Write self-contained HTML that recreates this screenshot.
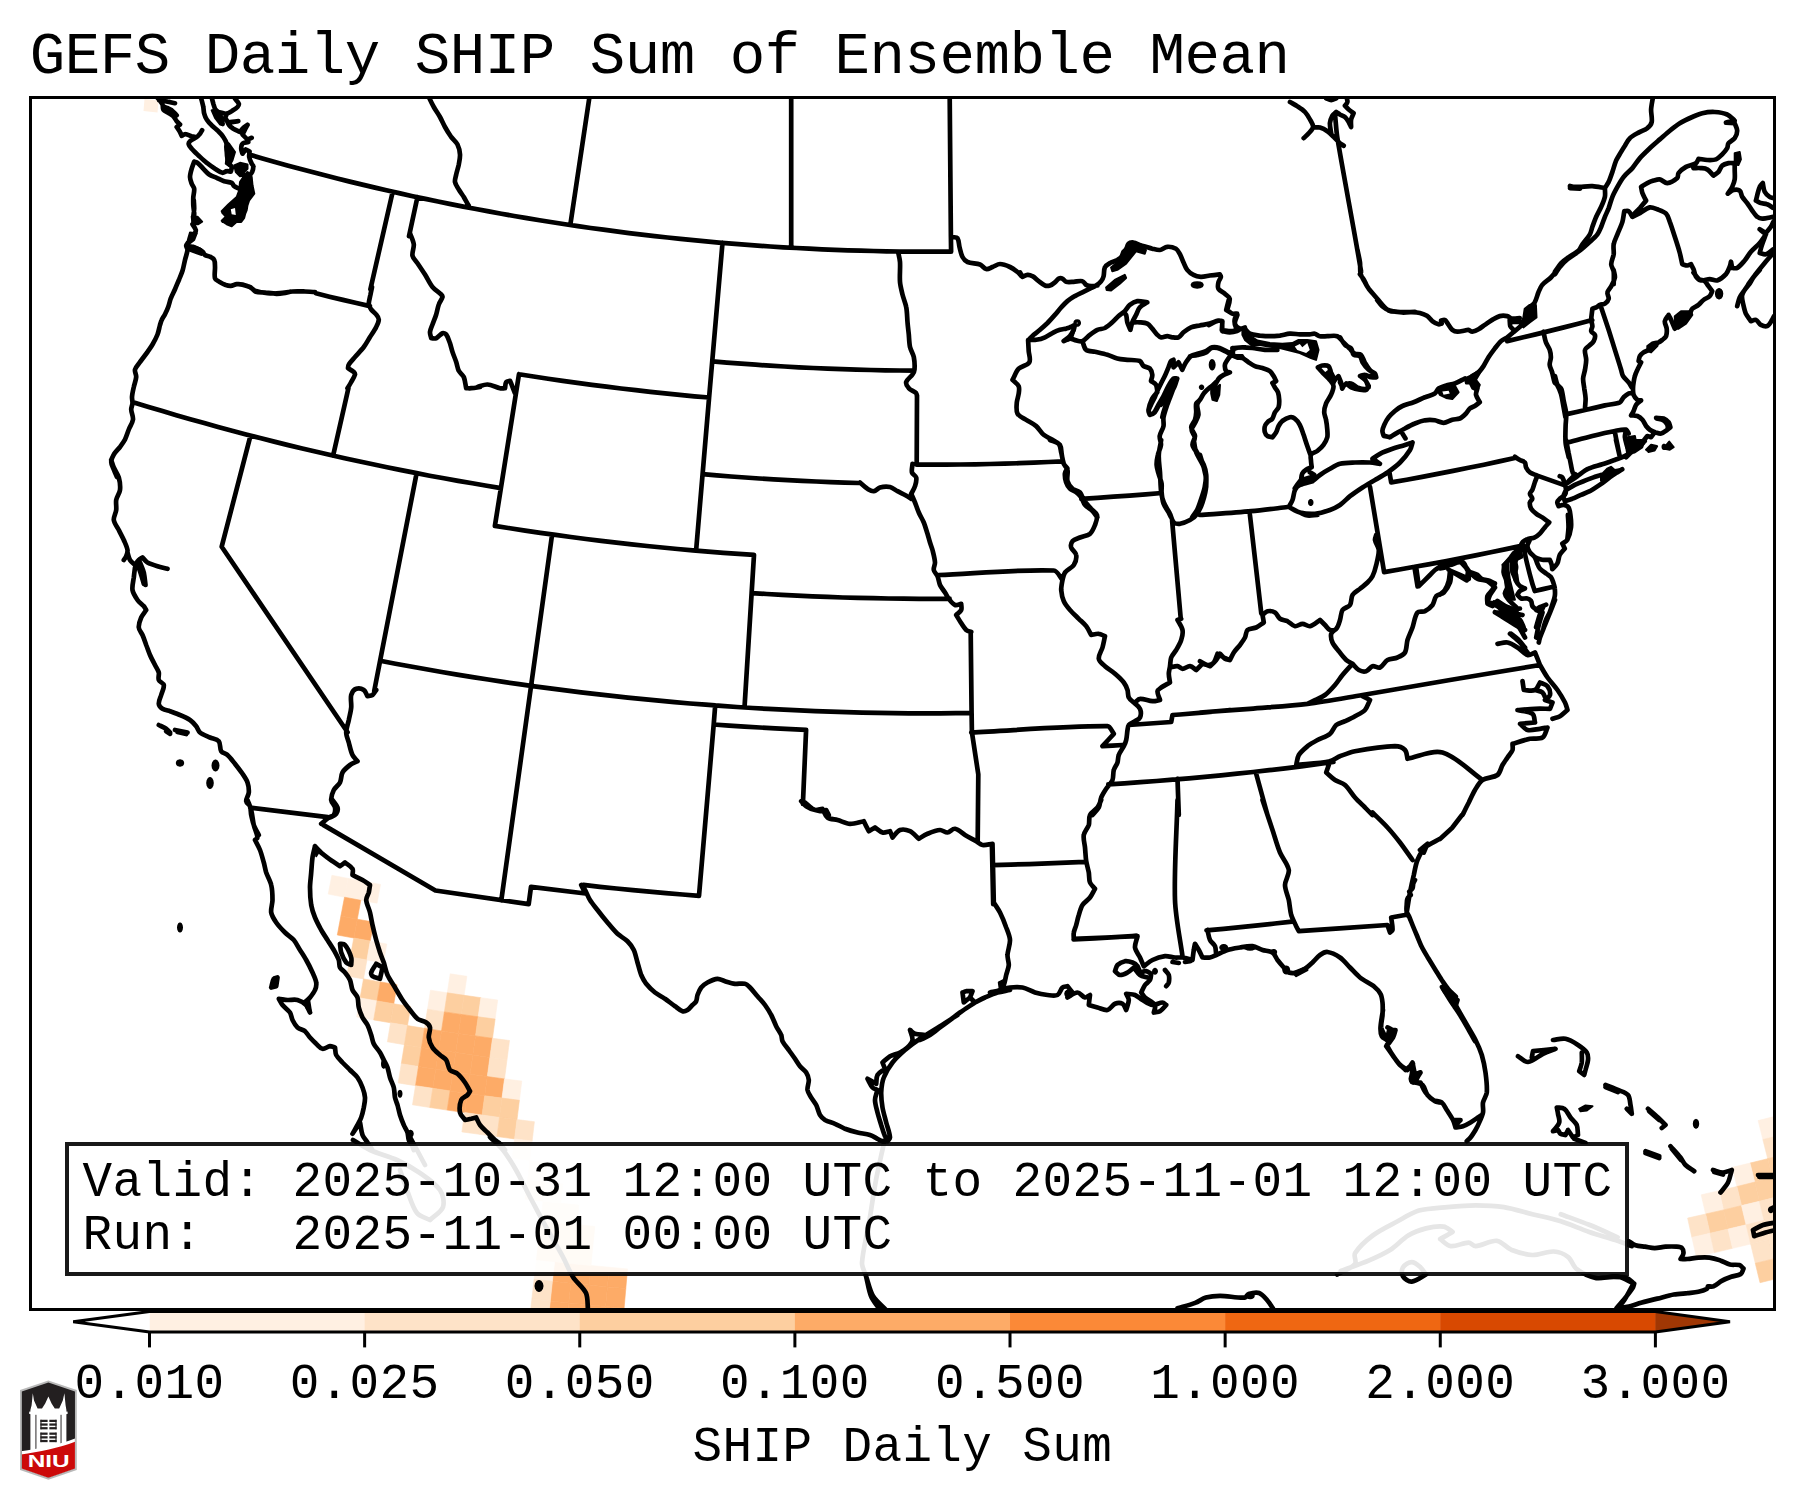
<!DOCTYPE html>
<html><head><meta charset="utf-8"><title>GEFS Daily SHIP Sum of Ensemble Mean</title>
<style>
html,body{margin:0;padding:0;background:#fff;}
svg{display:block}
text{font-family:"Liberation Mono",monospace;fill:#000;white-space:pre}
.ti{font-size:59.1px;letter-spacing:-0.465px}
.t{font-size:49.3px;letter-spacing:0.415px}
</style></head><body>
<svg width="1803" height="1500" viewBox="0 0 1803 1500">
<rect width="1803" height="1500" fill="#fff"/>
<defs><clipPath id="ax"><rect x="30.5" y="97.5" width="1744" height="1212"/></clipPath></defs>
<g clip-path="url(#ax)">
<polygon points="331.9,875.3 348.1,878.4 344.5,897.2 328.2,894.1" fill="#fff0e2" stroke="#fff0e2" stroke-width="0.6"/>
<polygon points="348.1,878.4 364.3,881.4 360.8,900.3 344.5,897.2" fill="#fff0e2" stroke="#fff0e2" stroke-width="0.6"/>
<polygon points="364.3,881.4 380.5,884.4 377.1,903.2 360.8,900.3" fill="#fff0e2" stroke="#fff0e2" stroke-width="0.6"/>
<polygon points="344.5,897.2 360.8,900.3 357.3,919.2 340.9,916.1" fill="#fdab67" stroke="#fdab67" stroke-width="0.6"/>
<polygon points="340.9,916.1 357.3,919.2 353.8,938.0 337.3,935.0" fill="#fdab67" stroke="#fdab67" stroke-width="0.6"/>
<polygon points="357.3,919.2 373.7,922.1 370.3,941.0 353.8,938.0" fill="#fdab67" stroke="#fdab67" stroke-width="0.6"/>
<polygon points="353.8,938.0 370.3,941.0 366.9,960.0 350.3,957.0" fill="#fdcfa0" stroke="#fdcfa0" stroke-width="0.6"/>
<polygon points="370.3,941.0 386.8,944.0 383.5,962.9 366.9,960.0" fill="#fff0e2" stroke="#fff0e2" stroke-width="0.6"/>
<polygon points="350.3,957.0 366.9,960.0 363.5,978.9 346.8,975.9" fill="#fee3c8" stroke="#fee3c8" stroke-width="0.6"/>
<polygon points="363.5,978.9 380.3,981.9 377.0,1000.9 360.1,997.9" fill="#fdcfa0" stroke="#fdcfa0" stroke-width="0.6"/>
<polygon points="380.3,981.9 397.0,984.7 393.8,1003.8 377.0,1000.9" fill="#fdab67" stroke="#fdab67" stroke-width="0.6"/>
<polygon points="360.1,997.9 377.0,1000.9 373.7,1019.9 356.7,1016.9" fill="#fff0e2" stroke="#fff0e2" stroke-width="0.6"/>
<polygon points="377.0,1000.9 393.8,1003.8 390.6,1022.8 373.7,1019.9" fill="#fdcfa0" stroke="#fdcfa0" stroke-width="0.6"/>
<polygon points="393.8,1003.8 410.6,1006.5 407.5,1025.6 390.6,1022.8" fill="#fdcfa0" stroke="#fdcfa0" stroke-width="0.6"/>
<polygon points="390.6,1022.8 407.5,1025.6 404.4,1044.7 387.4,1041.8" fill="#fee3c8" stroke="#fee3c8" stroke-width="0.6"/>
<polygon points="407.5,1025.6 424.5,1028.3 421.5,1047.4 404.4,1044.7" fill="#fdcfa0" stroke="#fdcfa0" stroke-width="0.6"/>
<polygon points="404.4,1044.7 421.5,1047.4 418.5,1066.5 401.3,1063.8" fill="#fdcfa0" stroke="#fdcfa0" stroke-width="0.6"/>
<polygon points="401.3,1063.8 418.5,1066.5 415.5,1085.7 398.2,1082.9" fill="#fee3c8" stroke="#fee3c8" stroke-width="0.6"/>
<polygon points="450.2,973.8 466.9,976.3 464.1,995.3 447.3,992.8" fill="#fff0e2" stroke="#fff0e2" stroke-width="0.6"/>
<polygon points="430.5,990.2 447.3,992.8 444.4,1011.9 427.5,1009.2" fill="#fff0e2" stroke="#fff0e2" stroke-width="0.6"/>
<polygon points="447.3,992.8 464.1,995.3 461.3,1014.4 444.4,1011.9" fill="#fdcfa0" stroke="#fdcfa0" stroke-width="0.6"/>
<polygon points="464.1,995.3 480.9,997.7 478.2,1016.8 461.3,1014.4" fill="#fdcfa0" stroke="#fdcfa0" stroke-width="0.6"/>
<polygon points="480.9,997.7 497.7,1000.0 495.1,1019.1 478.2,1016.8" fill="#fff0e2" stroke="#fff0e2" stroke-width="0.6"/>
<polygon points="427.5,1009.2 444.4,1011.9 441.5,1030.9 424.5,1028.3" fill="#fee3c8" stroke="#fee3c8" stroke-width="0.6"/>
<polygon points="444.4,1011.9 461.3,1014.4 458.5,1033.5 441.5,1030.9" fill="#fdab67" stroke="#fdab67" stroke-width="0.6"/>
<polygon points="461.3,1014.4 478.2,1016.8 475.5,1035.9 458.5,1033.5" fill="#fdab67" stroke="#fdab67" stroke-width="0.6"/>
<polygon points="478.2,1016.8 495.1,1019.1 492.5,1038.3 475.5,1035.9" fill="#fdcfa0" stroke="#fdcfa0" stroke-width="0.6"/>
<polygon points="424.5,1028.3 441.5,1030.9 438.6,1050.0 421.5,1047.4" fill="#fdab67" stroke="#fdab67" stroke-width="0.6"/>
<polygon points="441.5,1030.9 458.5,1033.5 455.7,1052.6 438.6,1050.0" fill="#fdab67" stroke="#fdab67" stroke-width="0.6"/>
<polygon points="458.5,1033.5 475.5,1035.9 472.8,1055.1 455.7,1052.6" fill="#fdab67" stroke="#fdab67" stroke-width="0.6"/>
<polygon points="475.5,1035.9 492.5,1038.3 489.9,1057.4 472.8,1055.1" fill="#fdab67" stroke="#fdab67" stroke-width="0.6"/>
<polygon points="492.5,1038.3 509.5,1040.5 507.0,1059.7 489.9,1057.4" fill="#fee3c8" stroke="#fee3c8" stroke-width="0.6"/>
<polygon points="421.5,1047.4 438.6,1050.0 435.7,1069.2 418.5,1066.5" fill="#fdab67" stroke="#fdab67" stroke-width="0.6"/>
<polygon points="438.6,1050.0 455.7,1052.6 452.9,1071.7 435.7,1069.2" fill="#fdab67" stroke="#fdab67" stroke-width="0.6"/>
<polygon points="455.7,1052.6 472.8,1055.1 470.1,1074.2 452.9,1071.7" fill="#fdab67" stroke="#fdab67" stroke-width="0.6"/>
<polygon points="472.8,1055.1 489.9,1057.4 487.3,1076.6 470.1,1074.2" fill="#fdab67" stroke="#fdab67" stroke-width="0.6"/>
<polygon points="489.9,1057.4 507.0,1059.7 504.5,1078.9 487.3,1076.6" fill="#fee3c8" stroke="#fee3c8" stroke-width="0.6"/>
<polygon points="418.5,1066.5 435.7,1069.2 432.8,1088.3 415.5,1085.7" fill="#fdab67" stroke="#fdab67" stroke-width="0.6"/>
<polygon points="435.7,1069.2 452.9,1071.7 450.1,1090.9 432.8,1088.3" fill="#fdab67" stroke="#fdab67" stroke-width="0.6"/>
<polygon points="452.9,1071.7 470.1,1074.2 467.4,1093.4 450.1,1090.9" fill="#fdab67" stroke="#fdab67" stroke-width="0.6"/>
<polygon points="470.1,1074.2 487.3,1076.6 484.7,1095.8 467.4,1093.4" fill="#fdab67" stroke="#fdab67" stroke-width="0.6"/>
<polygon points="487.3,1076.6 504.5,1078.9 502.0,1098.1 484.7,1095.8" fill="#fdab67" stroke="#fdab67" stroke-width="0.6"/>
<polygon points="504.5,1078.9 521.8,1081.1 519.4,1100.3 502.0,1098.1" fill="#fff0e2" stroke="#fff0e2" stroke-width="0.6"/>
<polygon points="415.5,1085.7 432.8,1088.3 429.8,1107.5 412.5,1104.8" fill="#fee3c8" stroke="#fee3c8" stroke-width="0.6"/>
<polygon points="432.8,1088.3 450.1,1090.9 447.2,1110.1 429.8,1107.5" fill="#fdcfa0" stroke="#fdcfa0" stroke-width="0.6"/>
<polygon points="450.1,1090.9 467.4,1093.4 464.7,1112.6 447.2,1110.1" fill="#fdab67" stroke="#fdab67" stroke-width="0.6"/>
<polygon points="467.4,1093.4 484.7,1095.8 482.1,1115.0 464.7,1112.6" fill="#fdab67" stroke="#fdab67" stroke-width="0.6"/>
<polygon points="484.7,1095.8 502.0,1098.1 499.5,1117.4 482.1,1115.0" fill="#fdcfa0" stroke="#fdcfa0" stroke-width="0.6"/>
<polygon points="502.0,1098.1 519.4,1100.3 517.0,1119.6 499.5,1117.4" fill="#fdcfa0" stroke="#fdcfa0" stroke-width="0.6"/>
<polygon points="464.7,1112.6 482.1,1115.0 479.5,1134.3 461.9,1131.9" fill="#fee3c8" stroke="#fee3c8" stroke-width="0.6"/>
<polygon points="482.1,1115.0 499.5,1117.4 497.0,1136.6 479.5,1134.3" fill="#fee3c8" stroke="#fee3c8" stroke-width="0.6"/>
<polygon points="499.5,1117.4 517.0,1119.6 514.6,1138.9 497.0,1136.6" fill="#fdcfa0" stroke="#fdcfa0" stroke-width="0.6"/>
<polygon points="517.0,1119.6 534.4,1121.7 532.1,1141.0 514.6,1138.9" fill="#fee3c8" stroke="#fee3c8" stroke-width="0.6"/>
<polygon points="514.6,1138.9 532.1,1141.0 529.8,1160.4 512.1,1158.2" fill="#fff0e2" stroke="#fff0e2" stroke-width="0.6"/>
<polygon points="554.6,1261.7 572.8,1263.7 570.8,1283.3 552.4,1281.3" fill="#fdab67" stroke="#fdab67" stroke-width="0.6"/>
<polygon points="552.4,1281.3 570.8,1283.3 568.7,1302.9 550.3,1300.9" fill="#fdab67" stroke="#fdab67" stroke-width="0.6"/>
<polygon points="550.3,1300.9 568.7,1302.9 566.7,1322.6 548.2,1320.6" fill="#fdab67" stroke="#fdab67" stroke-width="0.6"/>
<polygon points="572.8,1263.7 591.0,1265.5 589.1,1285.1 570.8,1283.3" fill="#fdab67" stroke="#fdab67" stroke-width="0.6"/>
<polygon points="570.8,1283.3 589.1,1285.1 587.2,1304.7 568.7,1302.9" fill="#fdab67" stroke="#fdab67" stroke-width="0.6"/>
<polygon points="568.7,1302.9 587.2,1304.7 585.2,1324.4 566.7,1322.6" fill="#fdab67" stroke="#fdab67" stroke-width="0.6"/>
<polygon points="591.0,1265.5 609.2,1267.2 607.4,1286.9 589.1,1285.1" fill="#fdab67" stroke="#fdab67" stroke-width="0.6"/>
<polygon points="589.1,1285.1 607.4,1286.9 605.6,1306.5 587.2,1304.7" fill="#fdab67" stroke="#fdab67" stroke-width="0.6"/>
<polygon points="587.2,1304.7 605.6,1306.5 603.8,1326.2 585.2,1324.4" fill="#fdab67" stroke="#fdab67" stroke-width="0.6"/>
<polygon points="609.2,1267.2 627.5,1268.9 625.8,1288.5 607.4,1286.9" fill="#fdab67" stroke="#fdab67" stroke-width="0.6"/>
<polygon points="607.4,1286.9 625.8,1288.5 624.1,1308.2 605.6,1306.5" fill="#fdab67" stroke="#fdab67" stroke-width="0.6"/>
<polygon points="605.6,1306.5 624.1,1308.2 622.3,1327.9 603.8,1326.2" fill="#fdab67" stroke="#fdab67" stroke-width="0.6"/>
<polygon points="536.4,1259.7 554.6,1261.7 552.4,1281.3 534.1,1279.3" fill="#fff0e2" stroke="#fff0e2" stroke-width="0.6"/>
<polygon points="534.1,1279.3 552.4,1281.3 550.3,1300.9 531.9,1298.9" fill="#fee3c8" stroke="#fee3c8" stroke-width="0.6"/>
<polygon points="531.9,1298.9 550.3,1300.9 548.2,1320.6 529.7,1318.5" fill="#fee3c8" stroke="#fee3c8" stroke-width="0.6"/>
<polygon points="538.6,1240.2 556.7,1242.2 554.6,1261.7 536.4,1259.7" fill="#fdcfa0" stroke="#fdcfa0" stroke-width="0.6"/>
<polygon points="540.8,1220.7 558.8,1222.7 556.7,1242.2 538.6,1240.2" fill="#fdcfa0" stroke="#fdcfa0" stroke-width="0.6"/>
<polygon points="556.7,1242.2 574.8,1244.1 572.8,1263.7 554.6,1261.7" fill="#fdcfa0" stroke="#fdcfa0" stroke-width="0.6"/>
<polygon points="558.8,1222.7 576.8,1224.6 574.8,1244.1 556.7,1242.2" fill="#fdcfa0" stroke="#fdcfa0" stroke-width="0.6"/>
<polygon points="574.8,1244.1 592.9,1245.9 591.0,1265.5 572.8,1263.7" fill="#fdcfa0" stroke="#fdcfa0" stroke-width="0.6"/>
<polygon points="576.8,1224.6 594.9,1226.4 592.9,1245.9 574.8,1244.1" fill="#fdcfa0" stroke="#fdcfa0" stroke-width="0.6"/>
<polygon points="543.1,1201.2 560.9,1203.2 558.8,1222.7 540.8,1220.7" fill="#fee3c8" stroke="#fee3c8" stroke-width="0.6"/>
<polygon points="560.9,1203.2 578.9,1205.1 576.8,1224.6 558.8,1222.7" fill="#fee3c8" stroke="#fee3c8" stroke-width="0.6"/>
<polygon points="527.5,1179.7 545.3,1181.8 543.1,1201.2 525.2,1199.1" fill="#fee3c8" stroke="#fee3c8" stroke-width="0.6"/>
<polygon points="529.8,1160.4 547.5,1162.4 545.3,1181.8 527.5,1179.7" fill="#fff0e2" stroke="#fff0e2" stroke-width="0.6"/>
<polygon points="545.3,1181.8 563.1,1183.8 560.9,1203.2 543.1,1201.2" fill="#fff0e2" stroke="#fff0e2" stroke-width="0.6"/>
<polygon points="1758.1,1120.6 1775.6,1116.2 1780.4,1135.2 1762.9,1139.6" fill="#fff0e2" stroke="#fff0e2" stroke-width="0.6"/>
<polygon points="1762.9,1139.6 1780.4,1135.2 1785.3,1154.2 1767.7,1158.7" fill="#fee3c8" stroke="#fee3c8" stroke-width="0.6"/>
<polygon points="1750.0,1163.1 1767.7,1158.7 1772.4,1177.7 1754.7,1182.1" fill="#fdcfa0" stroke="#fdcfa0" stroke-width="0.6"/>
<polygon points="1767.7,1158.7 1785.3,1154.2 1790.2,1173.2 1772.4,1177.7" fill="#fdcfa0" stroke="#fdcfa0" stroke-width="0.6"/>
<polygon points="1732.3,1167.3 1750.0,1163.1 1754.7,1182.1 1736.9,1186.5" fill="#fff0e2" stroke="#fff0e2" stroke-width="0.6"/>
<polygon points="1736.9,1186.5 1754.7,1182.1 1759.4,1201.3 1741.5,1205.6" fill="#fdcfa0" stroke="#fdcfa0" stroke-width="0.6"/>
<polygon points="1754.7,1182.1 1772.4,1177.7 1777.2,1196.8 1759.4,1201.3" fill="#fdcfa0" stroke="#fdcfa0" stroke-width="0.6"/>
<polygon points="1772.4,1177.7 1790.2,1173.2 1795.1,1192.3 1777.2,1196.8" fill="#fdcfa0" stroke="#fdcfa0" stroke-width="0.6"/>
<polygon points="1719.1,1190.7 1736.9,1186.5 1741.5,1205.6 1723.5,1209.9" fill="#fee3c8" stroke="#fee3c8" stroke-width="0.6"/>
<polygon points="1701.2,1194.8 1719.1,1190.7 1723.5,1209.9 1705.6,1214.0" fill="#fff0e2" stroke="#fff0e2" stroke-width="0.6"/>
<polygon points="1705.6,1214.0 1723.5,1209.9 1728.1,1229.1 1710.0,1233.3" fill="#fdcfa0" stroke="#fdcfa0" stroke-width="0.6"/>
<polygon points="1723.5,1209.9 1741.5,1205.6 1746.1,1224.8 1728.1,1229.1" fill="#fdcfa0" stroke="#fdcfa0" stroke-width="0.6"/>
<polygon points="1687.6,1218.1 1705.6,1214.0 1710.0,1233.3 1691.9,1237.4" fill="#fee3c8" stroke="#fee3c8" stroke-width="0.6"/>
<polygon points="1741.5,1205.6 1759.4,1201.3 1764.1,1220.4 1746.1,1224.8" fill="#fff0e2" stroke="#fff0e2" stroke-width="0.6"/>
<polygon points="1759.4,1201.3 1777.2,1196.8 1782.1,1216.0 1764.1,1220.4" fill="#fee3c8" stroke="#fee3c8" stroke-width="0.6"/>
<polygon points="1777.2,1196.8 1795.1,1192.3 1800.0,1211.4 1782.1,1216.0" fill="#fee3c8" stroke="#fee3c8" stroke-width="0.6"/>
<polygon points="1691.9,1237.4 1710.0,1233.3 1714.4,1252.6 1696.3,1256.7" fill="#fff0e2" stroke="#fff0e2" stroke-width="0.6"/>
<polygon points="1710.0,1233.3 1728.1,1229.1 1732.6,1248.3 1714.4,1252.6" fill="#fee3c8" stroke="#fee3c8" stroke-width="0.6"/>
<polygon points="1728.1,1229.1 1746.1,1224.8 1750.7,1244.0 1732.6,1248.3" fill="#fff0e2" stroke="#fff0e2" stroke-width="0.6"/>
<polygon points="1746.1,1224.8 1764.1,1220.4 1768.8,1239.6 1750.7,1244.0" fill="#fee3c8" stroke="#fee3c8" stroke-width="0.6"/>
<polygon points="1764.1,1220.4 1782.1,1216.0 1786.9,1235.2 1768.8,1239.6" fill="#fee3c8" stroke="#fee3c8" stroke-width="0.6"/>
<polygon points="1750.7,1244.0 1768.8,1239.6 1773.5,1258.9 1755.3,1263.3" fill="#fee3c8" stroke="#fee3c8" stroke-width="0.6"/>
<polygon points="1768.8,1239.6 1786.9,1235.2 1791.7,1254.4 1773.5,1258.9" fill="#fee3c8" stroke="#fee3c8" stroke-width="0.6"/>
<polygon points="1755.3,1263.3 1773.5,1258.9 1778.3,1278.2 1760.0,1282.7" fill="#fdcfa0" stroke="#fdcfa0" stroke-width="0.6"/>
<polygon points="1773.5,1258.9 1791.7,1254.4 1796.6,1273.7 1778.3,1278.2" fill="#fdcfa0" stroke="#fdcfa0" stroke-width="0.6"/>
<polygon points="144.5,99 158.5,100.5 157.5,112.5 143.5,111" fill="#fff0e2"/>
<path d="M250.1,154.8 262.5,158.4 274.9,161.9 287.4,165.4 299.8,168.8 312.3,172.1 324.8,175.3 337.3,178.5 349.8,181.6 362.4,184.6 375.0,187.6 387.5,190.5 400.1,193.4 412.7,196.2 425.4,198.9 438.0,201.5 450.7,204.1 463.3,206.6 476.0,209.0 488.7,211.4 501.4,213.7 514.1,216.0 526.8,218.1 539.6,220.2 552.3,222.3 565.1,224.2 577.9,226.1 590.6,228.0 603.4,229.7 616.2,231.4 629.0,233.1 641.9,234.6 654.7,236.1 667.5,237.5 680.4,238.9 693.2,240.2 706.1,241.4 718.9,242.6 731.8,243.6 744.7,244.7 757.5,245.6 770.4,246.5 783.3,247.3 796.2,248.0 809.1,248.7 822.0,249.3 834.9,249.8 847.8,250.3 860.7,250.7 873.6,251.0 886.5,251.3 899.4,251.5 912.3,251.6 925.2,251.7 938.1,251.7 951.1,251.6 M951.1,251.6 950.9,236.6 949.5,73.8 M134.7,402.8 148.6,407.0 162.5,411.1 176.3,415.2 190.3,419.2 204.2,423.1 218.1,427.0 232.1,430.7 246.1,434.4 260.1,438.1 274.2,441.6 288.2,445.1 302.3,448.5 316.4,451.8 330.5,455.0 344.6,458.2 358.7,461.3 372.9,464.3 387.0,467.3 401.2,470.1 415.4,472.9 429.6,475.7 443.9,478.3 458.1,480.9 472.4,483.3 486.7,485.7 500.9,488.1 M519.0,374.2 533.6,376.5 548.1,378.7 562.7,380.8 577.3,382.9 591.9,384.8 606.5,386.7 621.1,388.5 635.8,390.2 650.4,391.9 665.0,393.4 679.7,394.9 694.4,396.3 709.1,397.5 M494.9,525.9 510.0,528.3 525.2,530.6 540.4,532.8 555.6,534.9 570.8,537.0 586.0,539.0 601.2,540.8 616.4,542.6 631.7,544.3 647.0,546.0 662.2,547.5 677.5,549.0 692.8,550.3 708.1,551.6 723.4,552.8 738.7,553.9 754.0,554.9 M380.1,660.8 395.5,663.7 410.9,666.5 426.3,669.3 441.7,672.0 457.2,674.6 472.6,677.1 488.1,679.5 503.5,681.9 519.0,684.1 534.5,686.3 550.0,688.4 565.6,690.4 581.1,692.3 596.6,694.2 612.2,695.9 627.8,697.6 643.3,699.2 658.9,700.7 674.5,702.1 690.1,703.5 705.7,704.7 721.3,705.9 736.9,707.0 752.6,708.0 768.2,708.9 783.8,709.7 799.5,710.4 815.1,711.1 830.7,711.7 846.4,712.2 862.0,712.6 877.7,712.9 893.3,713.1 909.0,713.3 924.6,713.4 940.3,713.3 955.9,713.2 971.6,713.0 M713.7,724.5 729.1,725.6 744.5,726.6 759.9,727.5 775.3,728.4 790.7,729.1 806.1,729.8 M751.5,593.1 766.7,594.0 782.0,594.9 797.2,595.7 812.4,596.3 827.6,596.9 842.9,597.5 858.1,597.9 873.4,598.2 888.6,598.5 903.8,598.7 919.1,598.8 934.3,598.8 949.6,598.7 M702.6,474.2 716.8,475.4 731.0,476.5 745.2,477.5 759.4,478.5 773.6,479.3 787.8,480.1 802.0,480.9 816.2,481.5 830.4,482.1 844.6,482.6 858.8,483.0 M712.5,361.4 726.8,362.6 741.2,363.7 755.6,364.7 770.0,365.7 784.4,366.5 798.8,367.3 813.2,368.0 827.6,368.6 842.1,369.1 856.5,369.6 870.9,370.0 885.3,370.3 899.7,370.5 914.2,370.6 M916.7,464.7 931.3,464.7 946.0,464.6 960.6,464.5 975.2,464.3 989.9,464.0 1004.5,463.6 1019.1,463.2 1033.7,462.6 1048.3,462.0 1063.0,461.3 M315.9,293.3 329.4,296.7 342.9,299.9 356.4,303.0 369.9,306.1 M583.5,884.9 599.9,886.8 616.4,888.5 632.9,890.1 649.4,891.7 665.9,893.1 682.5,894.5 699.0,895.8 M992.4,865.1 1010.9,864.6 1029.4,864.1 1047.9,863.4 1066.4,862.6 1084.9,861.8 M1073.6,939.4 1094.5,938.3 1115.4,937.2 1136.3,935.8 M1206.5,930.4 1223.6,928.8 1240.7,927.1 1257.8,925.4 1274.9,923.5 1291.9,921.6 M1108.3,784.3 1124.4,783.3 1140.5,782.2 1156.6,781.0 1172.8,779.7 1188.9,778.3 1204.9,776.9 1221.0,775.3 1237.1,773.7 1253.2,772.0 1269.2,770.1 1285.3,768.3 1301.3,766.3 1317.3,764.2 1333.4,762.0 M1391.2,482.4 1406.7,479.7 1422.2,476.9 1437.6,473.9 1453.1,470.9 1468.5,467.8 1483.9,464.7 1499.3,461.4 1514.7,458.0 M1384.1,572.1 1399.4,569.5 1414.7,566.8 1429.9,564.1 1445.2,561.3 1460.4,558.4 1475.6,555.4 1490.8,552.3 1506.0,549.1 1521.2,545.9 M1081.3,498.8 1097.4,497.8 1113.5,496.7 1129.6,495.6 1145.7,494.3 1161.7,493.0 M1507.2,341.1 1521.4,337.8 1535.6,334.4 1549.8,330.9 1563.9,327.4 1578.1,323.8 1592.2,320.1 M392.7,191.7 370.4,289.3 M417.4,197.2 409.0,236.2 M333.1,455.7 348.4,388.3 M250.5,435.6 221.7,546.7 347.6,732.2 M416.6,473.2 380.1,660.8 374.2,691.1 M494.9,525.9 519.0,374.2 M552.1,534.5 501.3,900.4 M722.5,242.9 709.1,397.5 696.1,550.6 M754.0,554.9 744.5,707.5 M715.2,705.4 713.7,724.5 699.0,895.8 M806.1,729.8 802.9,803.8 M970.7,632.1 971.6,713.0 971.9,732.1 978.3,774.4 977.7,841.3 M991.9,844.4 993.2,904.1 M917.0,395.3 916.7,464.7 M1172.1,520.5 1180.7,618.1 M1249.9,514.7 1261.3,613.5 M1370.0,486.9 1384.1,572.1 M1389.4,472.2 1391.2,482.4 M1414.4,566.9 1417.6,586.5 M570.3,225.0 596.6,49.2 M250.2,807.7 327.8,817.1 M323.2,824.9 435.4,890.5 528.7,904.1 531.0,886.9 585.5,893.5 M1177.5,778.8 1178.8,815.0 M1462.0,815.0 1452.0,828.0 1440.0,839.0 M157.5,97.8C159.0,99.8 161.4,102.3 162.5,104.5C163.2,105.9 162.5,108.3 163.3,109.5C164.4,111.0 166.8,111.8 168.3,112.8C169.8,113.8 172.1,114.9 173.3,116.2C174.6,117.4 175.5,119.8 176.7,121.2C177.6,122.3 179.0,123.5 180.0,124.5C179.0,125.2 177.7,126.2 176.7,127.0C177.7,128.5 179.1,130.4 180.0,132.0C180.6,133.1 181.2,134.6 181.7,135.8C182.8,135.2 184.2,134.0 185.4,134.1C187.4,134.2 189.8,135.7 191.7,136.2C193.1,136.5 195.2,137.4 196.7,137.0C198.0,136.6 199.1,134.8 200.0,133.7C200.7,132.8 201.5,131.3 202.1,130.3 M159.2,100.3C161.7,100.7 165.0,101.1 167.5,101.6C169.8,102.0 172.8,102.8 175.0,103.2 M165.0,107.0C167.0,108.0 169.8,109.0 171.7,110.3C173.4,111.6 175.2,113.8 176.7,115.3 M196.7,137.0C194.7,138.2 191.7,139.5 190.0,141.2C189.2,141.9 188.5,143.5 188.8,144.5C189.1,146.0 190.7,147.5 191.7,148.7C193.5,150.8 196.3,153.4 198.3,155.3C200.8,157.6 204.0,160.7 206.7,162.8C209.0,164.7 212.4,167.0 215.0,168.7C217.2,170.0 220.0,172.3 222.5,172.8C223.8,173.1 225.3,171.4 226.7,171.2C227.9,171.0 229.6,171.5 230.8,171.6C231.1,170.2 232.0,168.4 231.7,167.0C231.4,165.8 229.7,164.8 229.2,163.7C228.5,162.3 227.8,160.2 227.5,158.7C227.0,156.2 226.8,152.8 226.7,150.3C226.6,148.3 227.2,145.6 226.7,143.7C226.1,141.5 224.6,138.9 223.3,137.0C222.1,135.1 220.0,132.8 218.3,131.2C216.5,129.3 213.5,127.2 211.7,125.3C210.0,123.7 207.9,121.4 206.7,119.5C205.6,117.9 204.7,115.5 204.2,113.7C203.6,111.7 203.7,109.0 203.3,107.0C203.0,105.0 202.2,102.3 201.7,100.3C201.4,99.5 201.1,98.3 200.8,97.4 M211.7,97.4C212.2,99.3 212.8,101.8 213.3,103.7C213.8,105.2 214.3,107.3 215.0,108.7C216.1,110.8 218.1,113.2 219.2,115.3C220.4,117.7 221.5,121.2 222.5,123.7 M235.0,98.7C236.1,100.2 238.2,101.9 238.8,103.7C239.1,104.7 238.2,106.2 237.5,107.0C236.0,108.6 233.5,110.0 231.7,111.2C230.2,112.0 228.3,113.4 226.7,113.7C225.2,113.9 223.2,113.2 221.7,112.8C219.7,112.4 217.0,111.7 215.0,111.2 M226.7,113.7C226.2,115.2 225.5,117.2 225.0,118.7C226.0,119.7 226.9,121.7 228.3,122.0C231.3,122.6 235.3,121.4 238.3,121.2 M226.7,120.3C227.4,121.8 228.1,124.0 229.2,125.3C230.2,126.6 232.0,127.8 233.3,128.7C235.2,129.8 238.0,131.0 240.0,132.0C240.8,131.0 241.6,129.5 242.5,128.7C243.9,127.4 246.0,126.0 247.5,124.9 M247.5,124.9C246.6,126.5 245.4,128.7 244.6,130.3C243.9,131.6 243.1,133.2 242.5,134.5C244.0,135.9 245.6,138.4 247.5,139.1C248.7,139.5 250.4,138.2 251.7,137.8 M247.5,139.1C247.8,140.0 248.1,141.1 248.3,142.0C246.6,142.5 243.8,142.4 242.5,143.7C241.4,144.7 241.2,147.1 241.2,148.7C241.2,150.2 242.1,152.2 242.5,153.7C243.5,152.4 244.8,150.8 245.8,149.5C247.0,150.1 248.5,151.0 249.6,151.6C249.5,153.2 248.9,155.4 249.2,157.0C249.5,159.1 250.8,161.7 251.7,163.7C252.0,164.5 253.3,165.3 253.3,166.2C253.4,168.0 252.8,170.4 252.1,172.0C251.3,173.7 249.5,175.5 248.3,177.0 M194.2,161.6C193.4,163.7 192.3,166.5 191.7,168.7C191.0,171.1 190.0,174.5 190.0,177.0C190.0,179.1 191.0,181.7 191.7,183.7C192.2,185.2 194.0,187.0 194.2,188.7C194.5,191.2 193.5,194.5 193.3,197.0C193.2,199.5 193.2,202.8 193.3,205.3C193.5,207.8 194.1,211.2 194.2,213.7C194.2,216.2 193.9,219.5 193.8,222.0 M194.2,161.6C195.2,162.0 196.7,162.2 197.5,162.8C199.5,164.3 201.6,166.9 203.3,168.7C205.1,170.4 207.1,173.1 209.2,174.5C211.2,175.9 214.4,176.8 216.7,177.8C218.9,178.8 221.8,180.4 224.2,181.2C226.4,181.9 229.6,181.8 231.7,182.8C232.8,183.4 233.2,185.4 234.2,186.2C235.5,187.2 237.7,187.9 239.2,188.7 M193.8,200.0C193.9,202.5 194.2,205.8 194.2,208.3C194.1,210.8 193.6,214.2 193.3,216.7 M192.5,224.2C193.5,225.9 195.3,228.1 195.8,230.0C196.1,231.0 195.2,232.3 195.0,233.3 M187.5,243.3C187.1,244.1 186.2,245.0 186.2,245.8C186.2,247.1 187.6,248.7 187.5,250.0C187.2,253.1 185.7,257.0 185.0,260.0C184.2,263.2 183.5,267.6 182.5,270.8C181.7,273.4 180.2,276.7 179.2,279.2C177.9,282.2 176.3,286.2 175.0,289.2C173.8,291.9 171.9,295.5 170.8,298.3C169.9,300.8 169.2,304.2 168.3,306.7C167.5,309.0 166.1,312.0 165.0,314.2C164.1,316.0 162.5,318.2 161.7,320.0C161.0,321.4 160.5,323.5 160.0,325.0 M186.2,245.8C187.9,246.2 190.1,246.6 191.7,247.1C193.7,247.6 196.4,248.4 198.3,249.2C199.7,249.7 201.4,250.7 202.5,251.7C203.4,252.5 204.0,254.3 205.0,255.0C206.3,255.9 208.6,255.9 210.0,256.7C211.4,257.4 213.5,258.6 214.2,260.0C215.1,261.8 214.9,264.7 215.0,266.7C215.2,270.2 214.1,275.0 215.0,278.3C215.4,279.9 217.8,280.8 219.2,281.7C221.1,282.8 223.7,284.2 225.8,285.0C227.3,285.5 229.3,285.9 230.8,285.8C232.6,285.7 234.9,284.4 236.7,284.2C238.4,284.0 240.8,284.2 242.5,284.6C245.1,285.2 248.5,286.3 250.8,287.5C252.6,288.4 254.0,291.0 255.8,291.7C258.4,292.6 262.3,292.2 265.0,292.5C268.5,292.9 273.2,293.6 276.7,293.8C278.7,293.8 281.4,293.6 283.3,293.3C285.4,293.0 288.0,292.2 290.0,291.7 M250.0,287.0C251.5,288.1 253.2,290.1 255.0,290.8C258.6,292.0 263.7,292.9 267.5,293.2C271.2,293.6 276.3,293.5 280.0,293.2C283.8,293.0 288.7,291.8 292.5,291.5C296.2,291.2 301.3,291.4 305.0,291.5C308.0,291.6 312.0,291.9 315.0,292.0 M140.0,362.0C138.5,364.2 135.7,366.9 135.0,369.5C134.4,371.7 136.4,374.7 136.2,377.0C136.0,380.1 134.4,384.0 133.8,387.0C133.1,390.0 132.2,394.0 132.0,397.0C131.9,398.9 132.6,401.4 132.5,403.2C132.4,405.2 131.2,407.6 131.2,409.5C131.3,412.5 133.4,416.5 133.0,419.5C132.6,422.7 130.0,426.5 128.8,429.5C127.6,432.5 126.4,436.6 125.0,439.5C123.8,441.9 121.6,444.8 120.0,447.0C118.2,449.3 115.2,452.0 113.8,454.5C112.6,456.5 111.2,459.6 111.2,462.0C111.2,464.4 112.9,467.3 113.8,469.5C114.6,471.8 116.0,474.8 117.0,477.0 M147.5,352.0 140.0,362.0 M160.0,325.0C159.2,327.9 158.6,331.7 157.5,334.5C156.3,337.6 154.2,341.6 152.5,344.5C151.2,346.8 149.0,349.8 147.5,352.0 M372.0,287.0C371.6,289.2 370.9,292.2 370.5,294.5C369.9,297.5 368.6,301.5 368.8,304.5C368.8,306.2 370.2,308.2 371.2,309.5C372.5,311.2 375.0,312.8 376.2,314.5C377.3,315.8 378.8,317.8 378.8,319.5C378.8,321.9 377.3,324.9 376.2,327.0C374.7,330.2 371.9,334.0 370.0,337.0C368.1,340.0 365.9,344.2 363.8,347.0C361.4,350.2 357.6,354.0 355.0,357.0C353.1,359.2 350.3,362.0 348.8,364.5C348.1,365.5 348.2,367.1 348.0,368.2C349.7,369.4 352.2,370.6 353.8,372.0C354.4,372.6 355.2,373.7 355.0,374.5C354.4,376.9 352.5,379.8 351.2,382.0C350.2,383.9 348.6,386.4 347.5,388.2 M410.0,233.2C411.1,236.6 413.4,241.0 413.8,244.5C414.1,247.9 411.8,252.4 412.5,255.8C413.0,258.4 416.0,261.0 417.5,263.2C419.8,266.6 422.8,271.1 425.0,274.5C427.3,278.2 429.7,283.6 432.5,287.0C434.7,289.7 438.8,292.1 441.2,294.5C441.8,295.1 442.7,296.2 442.5,297.0C441.9,299.4 439.6,302.1 438.8,304.5C437.7,307.4 437.2,311.5 436.2,314.5C435.3,317.6 433.6,321.5 432.5,324.5C431.7,326.7 430.2,329.6 430.0,332.0C429.8,333.9 430.9,336.4 431.2,338.2C432.8,338.2 434.9,338.9 436.2,338.2C438.4,337.3 440.3,334.1 442.5,333.2C443.6,332.8 445.5,333.6 446.2,334.5C448.0,336.8 449.0,340.6 450.0,343.2C450.9,345.8 451.6,349.4 452.5,352.0C453.5,355.0 455.2,359.0 456.2,362.0C457.1,364.6 457.5,368.3 458.8,370.8C459.8,372.9 462.8,374.8 463.8,377.0C465.1,380.2 465.5,384.9 466.2,388.2C467.8,388.2 469.8,388.4 471.2,388.2C473.9,388.0 477.4,387.4 480.0,387.0 M428.8,97.0C430.2,100.0 432.1,104.1 433.8,107.0C435.5,110.1 438.3,113.9 440.0,117.0C441.6,119.9 443.4,124.1 445.0,127.0C446.7,130.1 449.2,134.1 451.2,137.0C453.0,139.4 456.2,141.9 457.5,144.5C458.9,147.3 459.8,151.4 460.0,154.5C460.2,157.5 459.3,161.5 458.8,164.5C458.2,167.5 456.9,171.5 456.2,174.5C455.8,176.7 454.6,179.8 455.0,182.0C455.4,184.5 457.5,187.3 458.8,189.5C460.1,191.8 462.3,194.7 463.8,197.0C465.3,199.6 467.2,203.1 468.8,205.8 M791.2,97.0 791.2,247.5 M477.5,387.0C480.5,386.2 484.4,384.3 487.5,384.5C491.4,384.7 496.2,387.4 500.0,388.2C501.5,388.6 503.5,388.2 505.0,388.2C505.4,386.4 505.2,383.6 506.2,382.0C506.9,381.0 508.9,381.1 510.0,380.8C510.8,382.6 511.8,385.1 512.5,387.0C513.2,388.9 514.2,391.4 515.0,393.2 M898.2,252.5C898.8,255.3 899.8,259.1 900.0,262.0C900.4,268.0 899.5,276.0 900.0,282.0C900.3,285.8 901.6,290.8 902.5,294.5C903.4,298.3 905.5,303.1 906.2,307.0C907.1,311.4 907.1,317.5 907.5,322.0C907.8,325.8 908.4,330.8 908.8,334.5C909.1,338.2 909.2,343.3 910.0,347.0C910.7,350.1 913.1,353.9 913.8,357.0C914.5,360.7 914.8,365.8 914.5,369.5C914.4,371.1 913.4,373.2 912.5,374.5C910.9,376.9 907.0,379.2 906.2,382.0C905.7,383.9 907.4,386.7 908.8,388.2C910.5,390.3 914.4,391.3 916.2,393.2C917.0,394.1 916.8,395.9 917.0,397.0 M952.5,237.0C954.0,237.4 956.6,237.0 957.5,238.2C959.0,240.5 958.8,244.4 959.5,247.0C960.3,250.0 961.0,254.2 962.5,257.0C963.5,258.9 965.6,261.2 967.5,262.0C971.0,263.5 976.4,263.2 980.0,264.5C982.2,265.3 984.0,268.5 986.2,269.0C988.2,269.4 990.6,267.7 992.5,267.0C994.8,266.2 997.6,264.0 1000.0,264.0C1003.1,264.0 1007.2,265.7 1010.0,267.0C1012.5,268.1 1015.4,270.3 1017.5,272.0C1018.8,273.0 1020.1,274.6 1021.2,275.8 M1020.0,272.4C1020.7,273.7 1021.7,275.5 1022.5,276.8C1024.0,276.2 1025.9,275.0 1027.5,274.9C1029.0,274.8 1031.1,275.4 1032.5,276.2C1034.6,277.3 1036.8,279.7 1038.7,281.2C1040.5,282.5 1042.8,284.7 1045.0,285.5C1046.4,286.1 1048.5,286.0 1050.0,285.5C1051.6,285.0 1053.6,283.5 1054.9,282.4C1056.2,281.4 1057.3,279.4 1058.7,278.7C1059.7,278.2 1061.4,278.2 1062.4,278.7C1063.8,279.2 1064.8,281.4 1066.2,281.8C1068.3,282.4 1071.4,281.9 1073.7,281.8C1076.3,281.7 1079.8,280.5 1082.4,281.2C1083.9,281.5 1084.8,284.1 1086.1,284.9C1087.5,285.7 1089.6,286.1 1091.1,286.2C1093.0,286.3 1095.5,285.7 1097.4,285.5 M1028.7,339.8C1030.2,338.3 1032.1,336.2 1033.7,334.8C1035.5,333.2 1038.2,331.4 1040.0,329.8C1042.3,327.8 1045.3,325.1 1047.5,323.0C1049.8,320.6 1052.8,317.3 1054.9,314.9C1056.9,312.7 1059.2,309.5 1061.2,307.4C1063.0,305.4 1065.4,302.8 1067.4,301.1C1069.5,299.4 1072.6,297.5 1074.9,296.1C1077.1,294.9 1080.1,293.5 1082.4,292.4C1084.6,291.3 1087.6,289.8 1089.9,288.7C1091.8,287.7 1094.4,286.7 1096.1,285.5C1097.8,284.4 1099.9,282.7 1101.1,281.2C1102.2,279.9 1103.2,277.8 1103.6,276.2C1104.3,273.6 1103.7,269.8 1104.9,267.4C1105.7,265.6 1108.1,264.1 1109.9,263.1C1111.9,261.8 1115.2,261.2 1117.3,260.0C1119.4,258.7 1122.0,256.8 1123.6,255.0C1124.7,253.7 1125.4,251.5 1126.1,250.0C1126.9,248.1 1127.1,245.2 1128.6,243.7C1129.7,242.6 1132.0,242.3 1133.6,242.5C1135.6,242.7 1137.9,244.3 1139.8,245.0C1141.6,245.6 1144.2,246.3 1146.0,246.8C1147.9,247.4 1150.4,248.3 1152.3,248.7C1154.5,249.2 1157.5,250.2 1159.8,250.0C1162.2,249.7 1164.8,247.0 1167.3,246.8C1169.9,246.6 1173.6,247.4 1176.0,248.7C1177.6,249.6 1178.8,252.1 1179.7,253.7C1181.1,256.2 1182.3,259.9 1183.5,262.4C1184.5,264.7 1185.7,268.0 1187.2,269.9C1188.7,271.8 1191.3,273.9 1193.5,274.9C1195.5,276.0 1198.6,276.7 1200.9,276.8C1203.6,276.9 1207.1,275.9 1209.7,275.5C1212.7,275.2 1216.7,274.7 1219.7,274.3C1220.0,275.0 1221.0,276.0 1220.9,276.8C1220.6,278.6 1218.8,280.6 1218.4,282.4C1218.0,284.2 1217.5,287.0 1218.4,288.7C1219.6,290.7 1222.9,292.1 1224.7,293.6C1226.2,295.1 1229.3,296.5 1229.7,298.6C1230.2,302.0 1227.9,306.5 1227.2,309.9C1228.7,311.0 1230.4,313.0 1232.1,313.6C1233.5,314.1 1235.6,313.6 1237.1,313.6C1236.4,315.5 1234.8,317.8 1234.6,319.9C1234.4,322.1 1234.8,325.4 1235.9,327.3C1236.5,328.4 1238.5,328.2 1239.6,328.6 M1028.7,339.8C1031.0,339.8 1034.0,340.2 1036.2,339.8C1038.9,339.4 1042.5,338.4 1045.0,337.3C1047.7,336.1 1051.0,333.7 1053.7,332.3C1055.5,331.4 1058.0,330.4 1059.9,329.8C1061.8,329.3 1064.3,329.0 1066.2,328.6C1067.3,328.3 1068.8,327.8 1069.9,327.3C1071.5,326.7 1073.4,325.6 1074.9,324.8C1074.5,326.3 1074.3,328.4 1073.7,329.8C1072.8,331.8 1071.4,334.4 1069.9,336.1C1068.3,337.9 1065.5,339.6 1063.7,341.1C1065.5,340.3 1067.9,338.7 1069.9,338.6C1071.9,338.5 1074.2,340.1 1076.2,340.4C1078.0,340.8 1080.7,341.8 1082.4,341.1C1085.1,340.0 1087.5,336.6 1089.9,334.8C1092.0,333.2 1094.9,331.0 1097.4,329.8C1099.5,328.9 1102.8,329.0 1104.9,328.0C1107.4,326.7 1110.2,324.2 1112.3,322.3C1114.3,320.6 1116.6,317.9 1118.6,316.1C1120.4,314.5 1123.1,312.8 1124.8,311.1C1126.5,309.4 1127.9,306.4 1129.8,304.9C1131.8,303.3 1134.8,301.5 1137.3,301.1C1140.3,300.7 1144.3,302.0 1147.3,302.4C1145.0,303.9 1141.6,305.4 1139.8,307.4C1138.1,309.2 1137.2,312.6 1136.1,314.9C1134.9,317.1 1133.2,320.0 1132.3,322.3C1131.5,324.5 1131.0,327.6 1130.4,329.8C1129.5,327.6 1128.0,324.7 1127.3,322.3C1126.7,320.2 1126.9,317.0 1126.1,314.9C1125.7,313.9 1124.3,313.1 1123.6,312.4 M1078.7,323.0C1078.7,323.2 1078.6,323.5 1078.5,323.7C1078.3,323.9 1078.1,324.2 1077.9,324.3C1077.7,324.4 1077.4,324.5 1077.2,324.5C1076.9,324.5 1076.6,324.4 1076.4,324.3C1076.2,324.2 1076.0,323.9 1075.9,323.7C1075.7,323.5 1075.7,323.2 1075.7,323.0C1075.7,322.7 1075.7,322.4 1075.9,322.2C1076.0,322.0 1076.2,321.8 1076.4,321.7C1076.6,321.6 1076.9,321.5 1077.2,321.5C1077.4,321.5 1077.7,321.6 1077.9,321.7C1078.1,321.8 1078.3,322.0 1078.5,322.2C1078.6,322.4 1078.7,322.7 1078.7,323.0Z M1132.3,322.3C1134.6,322.3 1137.6,322.2 1139.8,322.3C1142.1,322.5 1145.3,322.6 1147.3,323.6C1149.2,324.5 1150.9,327.0 1152.3,328.6C1153.9,330.4 1155.6,333.1 1157.3,334.8C1158.2,335.8 1159.7,337.2 1161.0,337.3C1162.9,337.6 1165.3,336.1 1167.3,336.1C1168.8,336.1 1170.7,337.2 1172.2,337.3C1174.1,337.5 1176.8,338.1 1178.5,337.3C1180.4,336.5 1181.8,333.7 1183.5,332.3C1185.6,330.6 1188.5,328.4 1191.0,327.3C1193.4,326.3 1197.1,326.0 1199.7,325.5C1202.7,324.9 1206.7,324.4 1209.7,323.6C1212.4,322.9 1215.7,321.0 1218.4,320.5C1219.5,320.3 1221.0,320.9 1222.2,321.1C1222.2,324.1 1222.2,328.1 1222.2,331.1C1224.4,331.5 1227.4,332.3 1229.7,332.3C1231.9,332.3 1235.0,331.8 1237.1,331.1C1238.4,330.7 1239.8,329.3 1240.9,328.6 M1082.4,341.1C1083.5,343.7 1084.0,348.0 1086.1,349.8C1088.2,351.5 1092.3,351.1 1094.9,351.7C1098.6,352.6 1103.7,353.7 1107.4,354.8C1110.4,355.7 1114.2,357.8 1117.3,358.5C1120.3,359.3 1124.3,359.5 1127.3,359.8C1131.1,360.2 1136.3,359.7 1139.8,361.0C1141.5,361.7 1142.0,364.9 1143.5,366.0C1145.2,367.2 1148.4,367.1 1149.8,368.5C1151.2,369.9 1152.1,372.8 1152.3,374.8C1152.5,376.7 1151.4,379.1 1151.0,381.0C1152.5,382.1 1155.0,383.2 1156.0,384.7C1157.0,386.4 1156.9,389.1 1157.3,391.0 M1157.3,391.0C1156.5,392.9 1155.6,395.4 1154.8,397.2C1153.7,399.5 1152.1,402.4 1151.0,404.7C1150.2,406.5 1148.8,408.9 1148.5,410.9C1148.4,412.1 1149.4,413.6 1149.8,414.7C1150.9,414.3 1152.7,414.3 1153.5,413.4C1155.5,411.2 1157.0,407.3 1158.5,404.7C1160.0,402.1 1162.1,398.6 1163.5,396.0C1165.1,393.0 1166.8,388.9 1168.5,386.0C1169.8,383.6 1171.4,380.3 1173.5,378.5C1174.3,377.8 1176.1,378.5 1177.2,378.5C1176.5,380.7 1175.7,383.8 1174.7,386.0C1173.4,389.1 1171.2,392.9 1169.8,396.0C1168.5,398.6 1167.0,402.0 1166.0,404.7C1165.2,406.9 1164.2,409.9 1163.5,412.2C1163.1,413.7 1162.6,415.7 1162.3,417.2 M1161.0,404.7C1162.9,401.3 1165.3,396.8 1167.3,393.5C1169.0,390.4 1171.6,386.5 1173.5,383.5C1174.2,382.4 1175.2,380.9 1176.0,379.8 M1157.3,391.0C1158.4,388.7 1159.9,385.7 1161.0,383.5C1162.1,381.2 1163.7,378.3 1164.8,376.0C1166.0,373.4 1167.4,369.9 1168.5,367.3C1169.3,365.4 1169.9,362.7 1171.0,361.0C1171.5,360.3 1172.7,360.2 1173.5,359.8C1173.5,362.0 1173.5,365.0 1173.5,367.3C1175.0,365.8 1177.0,363.8 1178.5,362.3C1179.6,364.5 1181.1,367.5 1182.2,369.8C1183.4,367.5 1184.6,364.4 1186.0,362.3C1187.3,360.3 1189.0,357.4 1191.0,356.0C1192.9,354.7 1196.2,354.3 1198.5,353.5C1200.7,352.8 1203.8,352.0 1205.9,351.0C1207.9,350.1 1210.1,347.8 1212.2,347.3C1214.4,346.8 1217.5,347.3 1219.7,347.9C1222.1,348.6 1224.9,350.6 1227.2,351.7C1228.6,352.3 1230.6,353.0 1232.1,353.5C1232.9,352.0 1233.1,349.3 1234.6,348.6C1237.5,347.2 1241.9,347.7 1245.0,347.3 M1228.7,300.0C1227.9,303.0 1226.9,307.0 1226.2,310.0C1228.1,311.1 1230.4,312.8 1232.4,313.7C1233.8,314.4 1235.9,314.6 1237.4,315.0C1236.7,317.6 1234.4,321.0 1234.9,323.7C1235.3,325.8 1237.9,328.0 1239.9,328.7C1241.4,329.2 1243.4,327.8 1244.9,327.5 M1208.7,325.0C1211.7,323.6 1215.5,321.5 1218.7,320.6C1219.8,320.3 1221.3,321.0 1222.4,321.2C1222.3,323.8 1222.0,327.3 1221.8,330.0C1224.6,330.3 1228.3,331.2 1231.2,331.2C1233.1,331.2 1235.5,330.3 1237.4,330.0 M1244.9,328.7C1246.4,330.2 1248.0,332.8 1249.9,333.7C1252.7,335.0 1256.9,335.2 1259.9,335.6C1262.9,335.9 1266.9,336.2 1269.9,336.2C1272.9,336.2 1276.9,335.9 1279.9,335.6C1282.9,335.2 1286.8,333.9 1289.8,333.7C1292.8,333.5 1296.8,334.2 1299.8,334.3C1302.8,334.4 1306.8,334.4 1309.8,334.3C1311.3,334.3 1313.3,333.4 1314.8,333.7C1316.4,334.0 1318.1,335.9 1319.8,336.2C1322.0,336.6 1325.0,336.2 1327.3,336.2C1330.3,336.2 1334.5,335.1 1337.3,336.2C1339.7,337.1 1341.6,340.6 1343.5,342.4C1345.4,344.3 1347.9,346.8 1349.7,348.7C1351.2,350.2 1352.9,352.6 1354.7,353.7C1356.4,354.6 1359.5,353.7 1361.0,354.9C1362.9,356.6 1363.4,360.2 1364.7,362.4C1366.1,364.7 1367.9,367.9 1369.7,369.9C1370.9,371.3 1373.4,372.3 1374.7,373.6C1375.3,374.2 1375.6,375.4 1375.9,376.1C1374.1,376.1 1371.6,376.2 1369.7,376.1C1367.1,376.0 1363.6,375.7 1361.0,375.5C1362.5,377.2 1364.8,379.2 1366.0,381.1C1367.0,382.8 1367.7,385.5 1368.5,387.4C1367.3,387.9 1366.0,389.2 1364.7,389.2C1362.4,389.2 1359.4,388.2 1357.2,387.4C1355.2,386.5 1353.1,384.0 1351.0,383.6C1349.1,383.2 1346.4,383.9 1344.7,384.9C1343.6,385.5 1343.0,387.5 1342.2,388.6C1341.9,386.7 1341.5,384.2 1341.0,382.4C1340.4,380.4 1339.3,378.0 1338.5,376.1C1337.4,377.2 1335.9,378.7 1334.8,379.9C1333.6,377.6 1332.1,374.7 1331.0,372.4C1330.2,370.5 1330.1,367.4 1328.5,366.1C1327.0,365.0 1324.1,365.3 1322.3,365.5C1320.9,365.7 1319.2,366.8 1317.9,367.4C1319.6,369.3 1321.8,371.8 1323.5,373.6C1325.4,375.5 1328.1,377.8 1329.8,379.9C1331.1,381.6 1333.3,383.9 1333.5,386.1C1333.7,388.8 1332.1,392.3 1331.0,394.8C1329.8,397.6 1327.1,400.8 1326.0,403.6C1325.0,406.1 1324.2,409.6 1324.2,412.3C1324.2,414.6 1325.6,417.5 1326.0,419.8C1326.6,422.8 1327.1,426.8 1327.3,429.8C1327.4,432.0 1327.8,435.1 1327.3,437.3C1326.7,439.7 1325.0,442.7 1323.5,444.8C1322.0,446.9 1319.4,449.3 1317.3,451.0C1315.6,452.4 1312.2,452.9 1311.0,454.7C1310.1,456.3 1311.0,459.1 1311.0,461.0C1311.1,462.9 1311.5,465.3 1311.7,467.2C1310.0,468.0 1307.6,468.7 1306.1,469.7C1304.7,470.6 1303.0,472.0 1302.3,473.5C1301.5,475.2 1301.4,477.8 1301.1,479.7C1302.9,480.3 1305.4,481.6 1307.3,481.6C1309.3,481.6 1311.7,480.3 1313.5,479.7C1313.7,478.2 1314.0,476.2 1314.2,474.7C1312.9,474.0 1311.1,473.0 1309.8,472.2 M1301.1,479.7C1299.9,481.2 1298.4,483.2 1297.3,484.7C1296.5,485.8 1295.6,487.3 1294.8,488.4 M1233.1,354.9C1232.9,352.8 1232.6,350.1 1232.4,348.0C1235.4,347.9 1239.4,347.4 1242.4,347.4C1245.4,347.4 1249.4,347.7 1252.4,348.0C1256.2,348.5 1261.1,349.6 1264.9,349.9C1268.6,350.2 1273.6,349.9 1277.4,349.9 M1190.0,356.2C1192.2,355.8 1195.3,355.4 1197.5,354.9C1200.1,354.3 1203.8,353.6 1206.2,352.4C1208.0,351.5 1209.4,348.8 1211.2,348.0C1213.0,347.4 1215.6,347.6 1217.5,348.0C1219.8,348.6 1222.8,350.1 1224.9,351.2C1226.9,352.1 1229.3,353.8 1231.2,354.9 M1231.2,354.9C1230.1,356.4 1228.4,358.3 1227.4,359.9C1226.6,361.3 1225.1,363.2 1224.9,364.9C1224.7,366.8 1225.1,369.5 1226.2,371.1C1226.8,372.1 1228.8,372.0 1229.9,372.4C1228.1,373.1 1225.5,373.9 1223.7,374.9C1222.1,375.8 1219.9,377.2 1218.7,378.6C1217.3,380.3 1216.5,383.3 1215.0,384.9C1213.8,386.0 1211.3,386.3 1210.0,387.4C1207.9,389.0 1205.4,391.5 1203.7,393.6C1202.4,395.3 1201.3,398.1 1200.0,399.8C1199.0,401.1 1196.7,402.1 1196.2,403.6C1195.5,406.1 1196.4,409.7 1196.2,412.3C1196.1,414.6 1195.7,417.6 1195.0,419.8C1194.2,422.2 1191.2,424.8 1191.2,427.3C1191.2,430.1 1194.8,433.2 1195.0,436.0C1195.2,438.7 1192.1,442.1 1192.5,444.8C1192.9,447.7 1196.0,450.9 1197.5,453.5C1199.4,456.9 1202.3,461.2 1203.7,464.7C1204.9,467.6 1205.9,471.6 1206.2,474.7C1206.6,478.4 1206.2,483.4 1206.2,487.2 M1231.2,354.9C1233.1,355.7 1235.5,356.9 1237.4,357.4C1238.9,357.8 1241.0,357.4 1242.4,358.0C1244.5,359.0 1246.7,361.2 1248.7,362.4C1250.5,363.6 1252.9,365.3 1254.9,366.1C1257.0,367.0 1260.2,367.3 1262.4,368.0C1264.7,368.8 1267.9,369.7 1269.9,371.1C1271.4,372.2 1272.6,374.5 1273.6,376.1C1274.5,377.5 1275.4,379.6 1276.1,381.1C1275.0,381.7 1273.5,382.4 1272.4,383.0C1273.1,384.3 1274.1,386.1 1274.9,387.4C1275.8,388.9 1277.4,390.7 1278.0,392.3C1278.7,394.5 1279.1,397.6 1279.2,399.8C1279.3,402.1 1279.3,405.2 1278.6,407.3C1278.0,409.1 1275.8,410.7 1274.9,412.3C1273.9,414.1 1273.6,416.9 1272.4,418.6C1271.2,420.0 1268.7,421.0 1267.4,422.3C1266.4,423.3 1265.2,424.7 1264.9,426.0C1264.4,427.9 1264.4,430.5 1264.9,432.3C1265.2,433.6 1266.2,435.3 1267.4,436.0C1268.7,436.9 1270.9,436.9 1272.4,437.3C1273.5,435.8 1275.2,433.9 1276.1,432.3C1277.1,430.5 1277.6,427.8 1278.6,426.0C1279.5,424.4 1280.9,422.2 1282.3,421.0C1284.3,419.5 1287.4,417.8 1289.8,417.3C1291.3,417.0 1293.6,417.6 1294.8,418.6C1296.7,420.0 1298.7,422.7 1299.8,424.8C1301.3,427.6 1302.5,431.8 1303.6,434.8C1304.7,438.1 1306.1,442.6 1307.3,446.0C1308.2,448.6 1309.5,452.1 1310.4,454.7 M1377.2,300.0C1378.7,301.9 1380.4,304.7 1382.2,306.2C1384.2,307.9 1387.2,309.8 1389.7,310.6C1393.3,311.7 1398.4,312.3 1402.1,312.5C1406.0,312.7 1411.1,312.0 1415.0,311.9 M1290.0,102.0C1292.2,103.3 1295.3,104.9 1297.5,106.4C1299.8,107.9 1303.0,109.9 1305.0,112.0C1306.8,113.9 1308.7,117.1 1310.0,119.5C1311.1,121.6 1313.3,124.5 1313.1,127.0C1312.9,129.2 1310.2,131.4 1308.7,133.2C1307.4,134.8 1305.2,136.7 1303.7,138.2 M1313.1,127.0C1315.1,127.1 1318.0,127.0 1320.0,127.6C1322.4,128.3 1325.4,129.9 1327.4,131.3C1329.5,132.7 1331.9,135.2 1333.7,136.9C1335.6,138.8 1337.9,141.4 1339.9,143.2C1340.9,144.1 1342.5,144.9 1343.7,145.7 M1331.2,133.2C1330.8,130.2 1329.7,126.2 1329.9,123.2C1330.1,120.8 1331.3,117.8 1332.4,115.7C1333.2,114.3 1335.0,113.1 1336.2,112.0C1337.3,112.7 1338.7,113.8 1339.9,114.5C1341.4,115.3 1343.6,115.9 1344.9,117.0C1346.3,118.2 1347.7,120.4 1348.7,122.0C1349.5,123.4 1350.4,125.5 1351.1,127.0C1351.1,124.7 1350.7,121.7 1351.1,119.5C1351.5,117.5 1352.9,115.1 1353.6,113.2C1352.1,112.1 1350.1,110.7 1348.7,109.5C1347.4,108.4 1346.0,106.9 1344.9,105.7C1345.7,104.6 1347.1,103.3 1347.4,102.0C1347.7,100.9 1347.0,99.4 1346.8,98.2 M1334.9,113.2C1335.7,120.7 1336.2,130.8 1337.4,138.2C1344.1,178.3 1354.5,231.6 1361.1,271.7C1361.3,272.5 1360.3,273.5 1359.9,274.2C1361.0,275.7 1362.6,277.6 1363.6,279.2C1364.5,280.6 1365.4,282.7 1366.1,284.2 M1326.2,98.2C1327.7,98.8 1329.6,100.1 1331.2,100.1C1332.8,100.1 1334.7,98.8 1336.2,98.2 M1357.5,250.0C1358.2,253.7 1359.5,258.7 1360.0,262.5C1360.4,265.8 1359.8,270.4 1360.6,273.7C1361.3,276.6 1363.6,279.9 1365.0,282.4C1366.0,284.4 1367.4,286.9 1368.7,288.7C1370.8,291.4 1374.0,294.8 1376.2,297.4C1378.1,299.7 1380.4,302.8 1382.4,304.9C1384.2,306.7 1386.4,309.5 1388.7,310.5C1391.1,311.6 1394.8,311.6 1397.4,311.8C1401.1,312.1 1406.1,311.9 1409.9,312.1C1412.9,312.3 1416.9,312.4 1419.9,313.0C1422.2,313.6 1425.3,314.8 1427.4,316.1C1429.1,317.3 1430.6,319.9 1432.3,321.1C1434.0,322.4 1436.6,323.7 1438.6,324.3C1439.5,324.5 1440.8,323.8 1441.7,323.6C1441.5,322.7 1441.3,321.4 1441.1,320.5C1442.2,320.3 1443.8,319.3 1444.8,319.9C1446.4,320.8 1447.4,323.4 1448.6,324.9C1449.7,326.4 1450.8,328.7 1452.3,329.9C1453.6,330.9 1455.7,331.7 1457.3,331.7C1459.6,331.9 1462.5,330.9 1464.8,330.5C1465.9,330.3 1467.4,329.7 1468.5,329.9C1469.8,330.1 1471.0,331.8 1472.3,331.7C1474.3,331.6 1476.8,330.2 1478.5,329.2C1480.5,328.1 1482.9,326.2 1484.8,324.9C1487.0,323.4 1489.9,321.2 1492.2,319.9C1494.4,318.6 1497.3,316.7 1499.7,316.1C1501.9,315.6 1505.0,315.7 1507.2,316.1C1508.9,316.5 1510.6,318.4 1512.2,318.6C1514.4,319.0 1517.5,318.2 1519.7,318.0 M1509.7,319.9C1509.9,321.8 1509.7,324.4 1510.3,326.1C1510.9,327.5 1512.5,328.7 1513.5,329.9 M1512.2,321.8 1520.9,321.8 M1565.0,261.2C1563.0,263.5 1560.4,266.5 1558.4,268.7C1556.1,271.3 1553.3,275.0 1550.9,277.5C1548.5,279.9 1544.4,282.3 1542.2,284.9C1540.6,286.9 1539.4,290.1 1538.4,292.4C1537.2,295.4 1536.3,299.6 1534.7,302.4C1533.6,304.2 1531.2,305.9 1529.7,307.4 M1522.2,324.9C1520.0,326.7 1517.0,329.2 1514.7,331.1C1512.5,333.0 1509.6,335.6 1507.2,337.4C1505.5,338.6 1502.6,339.6 1501.0,341.1C1498.8,343.1 1496.5,346.3 1494.7,348.6C1492.8,351.1 1490.2,354.6 1488.5,357.3C1486.9,359.9 1485.2,363.5 1483.5,366.1C1482.2,368.1 1480.3,370.7 1478.5,372.3C1476.9,373.7 1474.2,374.9 1472.3,376.0 M1464.8,378.5C1461.8,380.0 1458.0,382.4 1454.8,383.5C1452.3,384.5 1448.6,384.6 1446.1,385.4C1443.7,386.1 1440.6,387.1 1438.6,388.5C1437.1,389.6 1436.4,392.5 1434.8,393.5C1432.1,395.2 1427.8,396.0 1424.9,397.3C1421.4,398.7 1417.1,400.9 1413.6,402.2C1410.3,403.5 1405.6,404.5 1402.4,406.0C1399.9,407.1 1397.0,409.3 1394.9,411.0C1392.9,412.7 1390.3,415.1 1388.7,417.2C1387.1,419.3 1385.4,422.3 1384.3,424.7C1383.5,426.5 1382.5,429.0 1382.4,430.9C1382.3,432.5 1383.3,434.4 1383.7,435.9C1385.5,436.3 1388.0,436.8 1389.9,437.2 M1477.3,388.5C1476.9,390.4 1475.7,392.9 1476.0,394.8C1476.5,397.2 1478.6,400.0 1479.8,402.2C1478.3,403.4 1476.4,405.0 1474.8,406.0C1473.4,406.9 1471.1,407.4 1469.8,408.5C1468.4,409.7 1467.4,412.2 1466.0,413.5C1464.3,415.2 1462.0,417.5 1459.8,418.5C1457.7,419.4 1454.5,419.1 1452.3,419.7C1449.6,420.4 1446.4,422.7 1443.6,422.8C1440.9,422.9 1437.5,420.7 1434.8,420.3C1431.9,419.9 1427.8,419.9 1424.9,420.3C1421.8,420.8 1417.8,422.3 1414.9,423.5C1411.8,424.7 1407.8,426.9 1404.9,428.5C1402.2,429.9 1398.8,431.9 1396.2,433.4C1394.3,434.5 1391.8,436.1 1389.9,437.2 M1402.4,433.4 1405.5,438.4 M1543.4,331.7C1544.2,334.9 1544.8,339.3 1545.9,342.3C1546.7,344.7 1548.9,347.5 1549.7,349.8C1550.4,352.0 1550.9,355.0 1550.9,357.3C1550.9,359.6 1549.5,362.5 1549.7,364.8C1549.8,367.2 1551.5,370.0 1552.1,372.3C1553.0,375.3 1553.5,379.4 1554.6,382.3C1555.0,383.3 1556.6,383.8 1557.1,384.8C1558.5,387.3 1560.1,390.8 1560.9,393.5C1562.0,397.2 1562.7,402.2 1563.4,406.0C1564.0,409.4 1564.8,413.9 1565.4,417.2 M1340.0,337.4C1341.5,339.6 1343.1,342.9 1345.0,344.8C1346.5,346.4 1349.8,346.9 1351.2,348.6C1352.6,350.1 1352.2,353.5 1353.7,354.8C1355.2,356.1 1358.5,354.8 1360.0,356.1C1361.5,357.4 1361.4,360.6 1362.5,362.3C1364.0,364.8 1366.5,367.8 1368.7,369.8C1370.3,371.3 1373.4,372.0 1374.9,373.5C1375.8,374.4 1375.8,376.2 1376.2,377.3C1374.7,377.3 1372.7,377.6 1371.2,377.3C1369.2,376.9 1367.0,375.0 1365.0,374.8C1363.4,374.6 1361.5,375.7 1360.0,376.0C1361.5,377.2 1363.7,378.4 1365.0,379.8C1366.4,381.4 1367.6,384.2 1368.7,386.0C1368.0,387.1 1367.4,389.2 1366.2,389.8C1364.5,390.5 1361.8,390.1 1360.0,389.8C1357.3,389.3 1353.7,388.4 1351.2,387.3C1349.5,386.5 1347.7,384.7 1346.2,383.5C1345.1,384.7 1343.6,386.1 1342.5,387.3C1341.7,385.8 1340.7,383.8 1340.0,382.3 M1653.0,97.0C1652.4,100.7 1651.3,105.7 1651.1,109.5C1650.9,113.2 1652.4,118.3 1651.7,122.0C1651.3,124.2 1649.1,126.8 1647.3,128.2C1645.1,130.0 1641.2,131.1 1638.6,132.6C1635.9,134.1 1632.1,136.0 1629.9,138.2C1627.9,140.0 1626.3,143.4 1624.9,145.7C1623.7,147.5 1622.2,150.0 1621.1,151.9C1619.6,154.5 1617.4,157.9 1616.1,160.6C1614.7,163.9 1613.6,168.5 1612.4,171.9C1611.3,174.9 1610.0,179.0 1608.7,181.9C1607.7,183.8 1606.0,186.2 1604.9,188.1C1601.2,187.5 1596.2,186.4 1592.4,186.2C1588.7,186.0 1583.7,186.7 1580.0,186.9C1577.0,186.9 1573.0,186.9 1570.0,186.9 M1570.0,185.9C1573.0,186.7 1577.0,187.9 1580.0,188.7C1577.0,188.5 1573.0,188.3 1570.0,188.1 M1604.9,188.1C1604.9,190.7 1605.4,194.3 1604.9,196.8C1604.3,200.0 1602.5,203.9 1601.2,206.8C1599.8,209.9 1597.5,213.7 1596.2,216.8C1594.9,219.7 1593.5,223.8 1592.4,226.8C1591.6,229.0 1591.1,232.2 1589.9,234.3C1588.1,237.5 1584.6,241.2 1582.5,244.3C1581.2,246.0 1580.3,249.0 1578.7,250.5C1575.7,253.2 1570.8,255.6 1567.5,258.0C1565.5,259.4 1562.9,261.2 1561.2,263.0C1559.1,265.4 1556.9,269.1 1555.0,271.7 M1726.0,122.6C1728.6,122.0 1732.1,121.3 1734.7,120.7C1732.5,118.8 1729.9,115.6 1727.2,114.5C1723.7,112.9 1718.5,112.2 1714.7,112.0C1711.0,111.8 1705.9,112.4 1702.3,113.2C1699.1,113.9 1695.2,115.7 1692.3,117.0C1688.4,118.7 1683.4,121.0 1679.8,123.2C1676.6,125.2 1672.7,128.3 1669.8,130.7C1666.7,133.2 1662.8,136.8 1659.8,139.4C1656.8,142.0 1652.7,145.4 1649.8,148.2C1646.8,151.1 1642.6,155.0 1639.9,158.1C1637.4,161.0 1634.8,165.3 1632.4,168.1C1629.9,170.9 1626.0,174.0 1623.6,176.9C1621.4,179.6 1619.1,183.8 1617.4,186.9C1615.8,189.8 1613.7,193.7 1612.4,196.8C1611.1,200.1 1609.9,204.7 1608.7,208.1C1607.7,210.7 1606.0,214.2 1604.9,216.8C1603.7,219.8 1602.4,223.8 1601.2,226.8C1600.2,229.1 1598.9,232.3 1597.4,234.3C1595.5,236.8 1592.3,239.6 1589.9,241.8C1587.0,244.5 1583.1,248.1 1580.0,250.5C1576.4,253.3 1571.0,256.3 1567.5,259.2C1565.0,261.2 1562.0,264.3 1560.0,266.7C1558.3,268.8 1556.5,272.0 1555.0,274.2 M1726.0,122.6C1728.6,122.8 1732.1,123.0 1734.7,123.2C1735.4,125.5 1737.2,128.3 1737.2,130.7C1737.2,133.1 1736.1,136.2 1734.7,138.2C1733.3,140.1 1729.9,141.3 1728.5,143.2C1727.5,144.4 1728.0,146.8 1727.2,148.2C1726.0,150.3 1723.9,152.7 1722.2,154.4C1720.5,156.1 1718.2,158.6 1716.0,159.4C1713.5,160.3 1709.9,160.1 1707.2,160.0C1704.6,159.9 1701.1,159.1 1698.5,158.8C1697.8,160.1 1697.3,162.3 1696.0,163.1C1693.3,164.9 1688.8,165.3 1686.0,166.9C1683.5,168.3 1680.3,170.8 1678.5,173.1C1677.6,174.3 1678.4,177.1 1677.3,178.1C1674.8,180.3 1670.7,182.9 1667.3,183.1C1664.8,183.3 1662.3,179.8 1659.8,179.4C1657.9,179.0 1655.4,180.1 1653.6,180.6C1651.7,181.2 1649.1,182.2 1647.3,183.1C1645.4,184.1 1643.0,185.7 1641.1,186.9C1641.5,188.7 1641.7,191.3 1642.4,193.1C1643.2,195.5 1645.0,198.3 1646.1,200.6C1644.2,202.8 1641.8,205.9 1639.9,208.1C1638.4,209.6 1636.2,211.4 1634.9,213.1C1634.0,214.1 1633.1,215.7 1632.4,216.8C1631.2,215.1 1630.3,212.3 1628.6,211.2C1627.5,210.4 1625.6,211.2 1624.3,211.2C1623.7,214.4 1623.3,218.7 1622.4,221.8C1621.2,225.7 1618.9,230.5 1617.4,234.3C1616.2,237.3 1614.2,241.1 1613.7,244.3C1613.1,247.2 1614.0,251.3 1613.7,254.2C1613.3,257.3 1611.2,261.1 1611.2,264.2C1611.2,266.6 1613.4,269.4 1613.7,271.7C1614.1,275.4 1613.7,280.4 1613.7,284.2 M1696.0,163.1C1695.3,164.6 1694.3,166.6 1693.5,168.1C1695.8,168.1 1698.8,167.9 1701.0,168.1C1702.9,168.3 1705.6,168.4 1707.2,169.4C1709.5,170.7 1711.6,173.7 1713.5,175.6C1715.0,174.5 1717.2,173.3 1718.5,171.9C1719.9,170.2 1720.6,167.1 1722.2,165.6C1723.7,164.3 1726.5,163.5 1728.5,163.1C1730.3,162.8 1732.8,163.1 1734.7,163.1 M1734.7,163.1C1734.7,165.0 1734.7,167.5 1734.7,169.4C1734.7,172.4 1735.1,176.4 1734.7,179.4C1734.4,181.7 1733.2,184.7 1732.2,186.9C1731.2,189.1 1729.1,191.7 1727.8,193.7C1729.5,192.6 1731.5,190.5 1733.5,190.0C1735.3,189.5 1738.2,189.4 1739.7,190.6C1741.3,191.8 1741.2,195.1 1742.2,196.8C1743.4,198.9 1745.8,201.1 1747.2,203.1C1748.8,205.3 1750.6,208.4 1752.2,210.6C1753.6,212.5 1755.3,215.3 1757.2,216.8C1758.4,217.8 1760.6,218.7 1762.2,218.7C1765.6,218.7 1770.0,217.4 1773.4,216.8 M1632.4,216.8C1634.6,215.7 1637.6,214.2 1639.9,213.1C1642.9,211.4 1646.5,208.2 1649.8,207.4C1652.1,207.0 1655.2,208.5 1657.3,209.3C1660.1,210.4 1664.0,211.6 1666.1,213.7C1668.0,215.6 1668.9,219.3 1669.8,221.8C1671.5,226.2 1673.4,232.3 1674.8,236.8C1676.4,241.6 1678.5,248.1 1679.8,253.0C1680.7,256.3 1681.5,260.9 1682.3,264.2C1683.8,264.6 1685.7,265.5 1687.3,265.5C1688.5,265.5 1689.9,264.6 1691.0,264.2C1691.8,265.7 1692.9,267.7 1693.5,269.2C1694.4,271.4 1694.7,274.7 1696.0,276.7C1697.1,278.3 1699.2,280.1 1701.0,280.4C1703.6,280.9 1707.1,279.2 1709.7,279.2C1712.0,279.2 1715.1,281.1 1717.2,280.4C1720.3,279.5 1723.8,276.6 1726.0,274.2C1727.7,272.3 1728.8,269.0 1729.7,266.7C1730.3,265.3 1730.6,263.2 1731.0,261.7C1731.3,263.6 1731.8,266.1 1732.2,268.0C1733.7,268.0 1735.9,268.7 1737.2,268.0C1739.9,266.3 1742.6,262.9 1744.7,260.5C1746.8,258.0 1748.8,254.2 1750.9,251.7C1753.3,248.9 1757.2,245.8 1759.7,243.0C1761.8,240.6 1764.0,236.9 1765.9,234.3C1764.4,233.1 1762.4,231.7 1760.9,230.5 M1755.9,200.6C1757.0,196.5 1758.1,190.8 1759.7,186.9C1760.2,185.5 1761.8,184.2 1762.8,183.1C1763.3,185.7 1763.5,189.4 1764.7,191.8C1765.6,193.7 1767.9,195.6 1769.6,196.8C1770.6,197.5 1772.3,197.7 1773.4,198.1 M1755.9,200.6C1757.4,201.3 1759.3,202.5 1760.9,203.1C1762.7,203.7 1765.4,203.6 1767.1,204.3C1769.2,205.1 1771.5,206.9 1773.4,208.1 M1759.7,229.3C1761.5,230.4 1764.0,231.9 1765.9,233.0C1767.4,231.2 1769.6,228.8 1770.9,226.8C1771.8,225.4 1772.6,223.3 1773.4,221.8 M1765.9,234.3C1764.8,237.3 1763.2,241.2 1762.2,244.3C1761.3,246.8 1760.4,250.4 1759.7,253.0C1761.5,253.4 1764.1,254.7 1765.9,254.2C1768.5,253.5 1771.1,250.7 1773.4,249.2 M1773.4,253.0C1770.8,256.0 1767.2,259.9 1764.7,263.0C1761.6,266.7 1757.6,271.6 1754.7,275.5C1752.7,278.0 1750.3,281.6 1748.4,284.2 M1613.7,270.0C1614.0,272.2 1615.2,275.2 1614.9,277.5C1614.5,280.3 1612.4,283.7 1611.2,286.2C1610.2,288.2 1607.8,290.3 1607.4,292.5C1607.0,294.3 1609.1,296.8 1608.7,298.7C1608.3,300.5 1606.4,302.6 1604.9,303.7C1603.7,304.6 1601.3,304.3 1599.9,304.9C1598.7,305.5 1597.4,306.8 1596.2,307.4C1595.1,308.0 1593.6,308.3 1592.4,308.7C1592.1,312.1 1591.2,316.5 1591.2,319.9C1591.2,321.8 1592.4,324.2 1592.4,326.2C1592.4,327.7 1590.8,329.7 1591.2,331.1C1591.6,332.7 1594.5,333.4 1594.9,334.9C1595.4,336.7 1594.6,339.5 1593.7,341.1C1592.7,343.0 1590.2,344.6 1588.7,346.1C1587.6,347.2 1585.2,348.3 1585.0,349.9C1584.4,352.8 1586.2,356.8 1586.2,359.9C1586.2,362.9 1585.4,366.9 1585.0,369.8C1584.5,372.5 1583.2,375.9 1583.1,378.6C1583.0,381.6 1584.0,385.6 1584.3,388.6C1584.7,391.5 1585.5,395.5 1585.6,398.5C1585.7,401.5 1585.1,405.5 1585.0,408.5 M1601.2,307.4C1603.4,314.2 1606.5,323.1 1608.7,329.9C1610.6,335.9 1613.0,343.9 1614.9,349.9C1616.8,355.9 1619.3,363.8 1621.1,369.8C1621.7,371.7 1622.0,374.4 1623.0,376.1C1624.3,378.2 1627.1,380.3 1628.6,382.3C1629.7,383.7 1630.8,385.8 1631.7,387.3 M1693.5,272.5C1695.0,274.4 1696.6,277.3 1698.5,278.7C1700.1,280.0 1703.1,280.0 1704.8,281.2C1706.2,282.4 1707.4,284.7 1708.5,286.2C1709.6,287.7 1711.1,289.7 1712.2,291.2C1711.5,292.7 1710.9,295.0 1709.7,296.2C1708.2,297.7 1705.2,298.6 1703.5,300.0C1701.8,301.3 1700.2,303.6 1698.5,304.9C1696.8,306.3 1693.8,307.1 1692.3,308.7C1691.1,309.9 1690.7,312.3 1689.8,313.7C1688.4,315.7 1686.4,318.1 1684.8,319.9C1683.0,321.9 1680.5,324.4 1678.5,326.2C1677.5,327.0 1675.9,327.9 1674.8,328.7C1673.7,326.0 1672.2,322.5 1671.1,319.9C1670.4,318.4 1669.3,316.4 1668.6,314.9C1667.4,316.8 1665.1,319.0 1664.8,321.2C1664.5,323.5 1666.5,326.3 1666.7,328.7C1666.9,330.9 1666.9,334.0 1666.1,336.1C1665.5,337.6 1663.5,338.9 1662.3,339.9C1661.3,340.7 1659.8,341.8 1658.6,342.4C1657.2,343.0 1654.8,342.7 1653.6,343.6C1651.7,345.1 1650.4,348.3 1648.6,349.9C1647.3,351.0 1645.0,351.4 1643.6,352.4C1642.3,353.3 1640.6,354.7 1639.9,356.1C1639.1,357.4 1639.0,359.6 1638.6,361.1C1639.4,361.5 1640.4,362.0 1641.1,362.3C1640.0,364.6 1638.4,367.5 1637.4,369.8C1636.5,371.7 1635.4,374.1 1634.9,376.1C1634.3,377.9 1633.9,380.4 1633.6,382.3C1633.3,384.2 1633.0,386.7 1633.0,388.6C1633.0,390.4 1632.9,393.0 1633.6,394.8C1634.3,396.5 1635.9,398.7 1637.4,399.8C1638.3,400.5 1640.0,400.2 1641.1,400.4C1639.6,401.7 1637.3,403.1 1636.1,404.8C1635.0,406.4 1634.5,409.2 1633.6,411.0C1633.0,412.4 1631.9,414.1 1631.1,415.4C1633.0,415.6 1635.6,415.3 1637.4,416.0C1639.1,416.7 1641.1,418.3 1642.4,419.8C1643.8,421.4 1644.8,424.2 1646.1,426.0C1647.1,427.3 1648.5,428.8 1649.8,429.7C1651.2,430.7 1653.3,431.5 1654.8,432.2 M1654.8,432.2C1656.7,432.6 1659.2,433.9 1661.1,433.5C1663.2,433.0 1665.5,430.9 1667.3,429.7C1668.3,429.1 1669.5,428.0 1670.4,427.2C1669.9,425.7 1669.5,423.5 1668.6,422.2C1667.4,420.8 1665.3,419.1 1663.6,418.5C1661.4,417.8 1658.3,418.1 1656.1,417.9 M1656.7,418.5C1658.8,419.1 1661.7,419.3 1663.6,420.4C1665.1,421.2 1666.5,423.2 1667.3,424.7C1667.9,425.7 1667.7,427.4 1667.9,428.5 M1654.8,432.2C1653.7,433.7 1652.2,435.7 1651.1,437.2C1650.0,436.8 1648.5,436.3 1647.3,436.0C1645.8,437.8 1644.0,440.5 1642.4,442.2C1640.7,443.9 1637.9,445.6 1636.1,447.2C1634.1,449.0 1631.7,451.6 1629.9,453.4C1628.8,454.6 1627.3,456.1 1626.1,457.2 M1759.7,270.0C1757.8,272.2 1755.1,275.1 1753.4,277.5C1752.1,279.3 1750.9,281.9 1749.7,283.7C1748.3,285.7 1746.1,288.0 1744.7,290.0C1743.1,292.2 1740.8,295.0 1739.7,297.5C1738.6,299.9 1737.9,303.6 1737.2,306.2 M1749.7,282.5C1747.4,286.2 1743.4,290.8 1742.2,295.0C1741.4,297.9 1742.8,302.0 1743.4,304.9C1744.0,307.6 1744.8,311.2 1745.9,313.7C1747.1,316.1 1749.4,318.9 1750.9,321.2C1752.4,320.8 1754.5,319.4 1755.9,319.9C1757.9,320.7 1759.1,323.9 1760.9,324.9C1762.6,325.8 1765.4,326.9 1767.1,326.2C1769.3,325.2 1770.8,321.9 1772.1,319.9C1772.8,318.9 1773.4,317.3 1774.0,316.2 M1566.9,414.1C1572.7,412.8 1580.4,411.1 1586.2,409.8C1591.8,408.5 1599.3,406.7 1604.9,405.4C1609.4,404.4 1615.7,404.1 1619.9,402.3C1621.6,401.5 1622.3,398.6 1623.6,397.3C1625.0,396.0 1627.0,394.4 1628.6,393.5C1629.6,393.0 1631.2,393.1 1632.4,392.9 M1566.9,442.8C1574.5,440.8 1584.7,437.9 1592.4,436.0C1599.1,434.3 1608.1,432.2 1614.9,431.0C1618.2,430.4 1622.8,429.1 1626.1,429.7C1627.5,430.0 1627.9,432.4 1628.6,433.5 M1614.9,432.2C1615.6,436.0 1616.6,441.0 1617.4,444.7C1618.1,448.5 1619.1,453.4 1619.9,457.2 M1626.1,429.7C1625.8,432.0 1624.7,434.9 1624.9,437.2C1625.1,440.3 1626.6,444.2 1627.4,447.2 M1555.0,376.1C1555.7,378.7 1556.3,382.4 1557.5,384.8C1558.2,386.2 1560.7,387.1 1561.2,388.6C1562.6,392.1 1563.0,397.3 1563.7,401.0C1564.5,404.8 1565.9,409.7 1566.2,413.5C1566.5,417.2 1565.7,422.2 1565.6,426.0C1565.5,431.0 1565.1,437.8 1565.6,442.8C1566.0,447.2 1567.8,452.9 1568.7,457.2 M1514.9,456.8C1516.4,457.8 1518.3,459.1 1519.9,460.0C1521.3,460.8 1523.8,461.2 1524.9,462.5C1525.8,463.6 1525.4,466.1 1526.1,467.5C1526.9,469.1 1528.3,471.3 1529.9,472.4C1531.8,473.9 1535.1,474.6 1537.3,475.6C1536.6,477.6 1535.6,480.4 1534.8,482.4C1534.1,484.7 1533.3,487.8 1532.3,489.9C1531.8,491.2 1529.9,492.3 1529.9,493.7C1529.9,495.3 1532.3,497.0 1532.3,498.7C1532.3,500.0 1530.0,501.1 1529.9,502.4C1529.6,504.3 1530.2,507.0 1531.1,508.6C1532.1,510.5 1534.4,512.3 1536.1,513.6C1537.8,515.0 1540.5,516.2 1542.3,517.4C1544.4,518.8 1547.1,520.9 1549.2,522.4C1547.9,523.9 1546.1,525.8 1544.8,527.4C1543.3,529.2 1541.5,531.9 1539.8,533.6C1538.5,534.9 1536.5,536.6 1534.8,537.3C1532.7,538.3 1529.5,538.4 1527.4,539.2C1525.9,539.7 1524.1,540.7 1523.0,541.7C1522.2,542.4 1521.7,543.9 1521.1,544.8 M1537.3,475.6 1563.5,484.9 M1523.0,544.8C1524.3,550.8 1525.9,558.8 1527.4,564.8C1528.7,570.4 1530.7,577.9 1532.3,583.5C1533.0,585.8 1534.1,588.8 1534.8,591.0C1539.7,589.9 1546.2,588.4 1551.1,587.3 M1529.9,539.8C1529.1,541.7 1527.4,544.1 1527.4,546.1C1527.4,548.1 1528.7,550.6 1529.9,552.3C1531.0,554.1 1533.7,555.5 1534.8,557.3C1536.0,559.0 1536.5,561.7 1537.3,563.5C1538.0,565.1 1538.7,567.3 1539.8,568.5C1541.4,570.3 1544.2,572.1 1546.1,573.5C1547.6,574.7 1549.9,575.8 1551.1,577.3C1552.3,578.9 1552.9,581.6 1553.6,583.5C1554.0,585.0 1554.7,587.0 1554.8,588.5C1555.0,590.7 1555.2,593.8 1554.8,596.0C1554.4,598.7 1553.1,602.1 1552.3,604.7C1551.6,607.0 1550.7,610.0 1549.8,612.2C1548.9,614.5 1547.0,617.4 1546.1,619.7C1545.2,621.9 1544.3,624.9 1543.6,627.2 M1534.8,557.3C1537.1,558.1 1540.0,559.4 1542.3,559.8C1544.5,560.2 1547.6,559.8 1549.8,559.8C1550.4,561.3 1551.3,563.2 1551.7,564.8C1552.0,566.1 1552.1,567.8 1552.3,569.2C1553.8,567.5 1556.3,565.5 1557.3,563.5C1558.6,561.1 1558.6,557.2 1559.8,554.8C1560.9,552.7 1563.3,550.4 1564.8,548.6C1564.0,547.1 1563.0,545.1 1562.3,543.6C1563.8,542.5 1566.4,541.5 1567.3,539.8C1569.1,536.4 1570.5,531.2 1571.0,527.4C1571.5,523.6 1570.9,518.6 1570.4,514.9C1570.1,512.6 1569.8,509.3 1568.5,507.4C1567.6,506.0 1565.2,505.1 1563.5,504.9C1562.0,504.7 1560.0,505.8 1558.6,506.1C1558.2,505.0 1557.1,503.6 1557.3,502.4C1557.5,501.1 1558.8,499.6 1559.8,498.7C1561.1,497.3 1563.7,496.4 1564.8,494.9C1565.7,493.7 1566.0,491.5 1566.0,489.9C1566.0,488.0 1565.3,485.5 1564.8,483.7C1564.2,481.7 1563.4,479.1 1562.3,477.4C1561.8,476.7 1560.5,476.6 1559.8,476.2 M1567.3,539.8C1567.7,536.1 1568.4,531.1 1568.5,527.4C1568.6,523.6 1568.1,518.6 1567.9,514.9 M1566.0,440.0C1566.8,443.7 1567.8,448.7 1568.5,452.5C1569.3,456.2 1570.2,461.2 1571.0,465.0C1571.5,467.4 1571.8,470.8 1572.9,473.1C1573.3,473.8 1574.7,473.9 1575.4,474.3C1573.7,476.0 1571.4,478.2 1569.8,479.9C1569.0,480.8 1568.0,482.1 1567.3,483.1 M1567.3,483.1C1570.3,481.0 1574.3,478.2 1577.3,476.2C1580.6,473.9 1584.8,470.4 1588.5,468.7C1592.4,466.8 1598.1,465.7 1602.2,464.3C1606.0,463.1 1611.0,461.3 1614.7,460.0C1617.7,458.9 1621.8,457.7 1624.7,456.2C1627.1,455.0 1629.9,452.7 1632.2,451.2C1634.4,449.7 1637.6,447.9 1639.7,446.2C1641.3,444.9 1643.2,442.7 1644.7,441.2 M1616.0,440.0 1619.7,456.2 M1566.0,489.9C1568.7,488.4 1572.1,486.3 1574.8,484.9C1577.3,483.7 1580.9,482.2 1583.5,481.2C1586.5,480.0 1590.5,478.5 1593.5,477.4C1595.7,476.6 1598.7,475.7 1601.0,474.9 M1566.0,489.9C1565.3,491.8 1563.8,494.2 1563.5,496.2C1563.4,497.7 1564.4,499.7 1564.8,501.1C1567.0,500.4 1570.1,499.5 1572.3,498.7C1574.9,497.6 1578.4,496.0 1581.0,494.9C1583.6,493.8 1587.2,492.5 1589.8,491.2C1592.9,489.5 1596.8,486.9 1599.7,484.9C1602.8,482.8 1606.7,479.6 1609.7,477.4C1611.9,475.9 1614.9,473.9 1617.2,472.4C1618.7,471.5 1620.7,470.3 1622.2,469.3 M1521.1,549.8C1519.2,550.6 1516.5,551.1 1514.9,552.3C1513.0,553.8 1511.4,556.7 1509.9,558.6C1508.4,560.4 1505.9,562.6 1504.9,564.8C1503.9,566.9 1503.5,570.0 1503.6,572.3C1503.8,574.6 1505.6,577.5 1506.1,579.8C1506.7,582.0 1507.6,585.0 1507.4,587.3C1507.2,589.3 1504.7,591.5 1504.9,593.5C1505.1,595.7 1507.3,598.0 1508.6,599.7C1509.9,601.4 1512.1,603.2 1513.6,604.7C1514.8,605.8 1516.2,607.3 1517.4,608.5 M1517.4,552.3C1516.6,554.6 1515.1,557.4 1514.9,559.8C1514.7,562.1 1516.1,565.0 1516.1,567.3C1516.1,569.6 1514.9,572.5 1514.9,574.8C1514.9,576.7 1515.3,579.3 1516.1,581.0C1516.9,582.7 1518.4,584.8 1519.9,586.0C1521.1,587.1 1523.4,587.8 1524.9,588.5C1523.4,589.3 1521.2,589.9 1519.9,591.0C1518.8,591.9 1518.1,593.6 1517.4,594.7C1518.5,595.9 1519.6,597.9 1521.1,598.5C1522.9,599.1 1525.5,598.0 1527.4,598.5C1528.7,598.8 1530.3,599.9 1531.1,601.0C1532.0,602.3 1531.6,604.6 1532.3,606.0C1533.1,607.4 1535.0,608.6 1536.1,609.7C1537.2,609.0 1538.6,607.8 1539.8,607.2C1541.6,606.3 1544.2,605.5 1546.1,604.7 M1536.1,627.2C1537.2,623.4 1538.5,618.4 1539.8,614.7C1540.8,612.0 1542.5,608.6 1543.6,606.0 M1440.0,568.5C1441.9,568.2 1444.4,567.7 1446.2,567.3C1445.9,566.5 1445.4,565.5 1445.0,564.8C1446.5,564.2 1448.4,563.3 1450.0,562.9C1452.6,562.3 1456.1,561.7 1458.7,561.7C1460.3,561.7 1462.6,561.8 1463.7,562.9C1465.7,564.9 1466.0,569.2 1468.1,571.0C1470.4,573.0 1474.8,573.3 1477.4,574.8C1478.8,575.6 1479.8,577.8 1481.2,578.5C1483.6,579.7 1487.4,580.1 1489.9,581.0C1491.5,581.6 1493.4,582.8 1494.9,583.5C1494.2,585.4 1493.4,588.0 1492.4,589.8C1491.2,591.8 1488.2,593.7 1487.4,596.0C1486.7,598.1 1487.4,601.2 1487.4,603.5C1488.9,604.2 1490.9,605.2 1492.4,606.0C1493.9,604.5 1495.9,602.5 1497.4,601.0C1499.7,602.5 1502.6,604.6 1504.9,606.0C1507.1,607.2 1509.9,609.3 1512.4,609.7C1514.6,610.1 1517.6,608.8 1519.9,608.5 M1448.7,569.8C1454.2,573.0 1461.4,577.2 1466.8,580.4C1467.2,577.6 1467.7,573.8 1468.1,571.0 M1440.0,594.7C1441.5,593.2 1443.9,591.5 1445.0,589.8C1446.5,587.3 1448.0,583.8 1448.7,581.0C1449.5,578.1 1449.6,574.0 1450.0,571.0 M1494.9,612.2C1497.9,614.1 1501.9,616.6 1504.9,618.5C1507.9,620.3 1511.9,622.8 1514.9,624.7C1516.7,625.8 1519.2,627.3 1521.1,628.4 M1494.9,612.2C1499.4,613.0 1505.5,613.4 1509.9,614.7C1513.1,615.7 1517.4,617.4 1519.9,619.7C1521.7,621.4 1522.5,624.9 1523.6,627.2 M111.2,460.0C112.0,462.2 112.8,465.3 113.8,467.5C115.1,470.6 117.9,474.3 118.8,477.5C119.8,481.1 120.4,486.3 120.0,490.0C119.6,493.2 116.8,496.9 116.2,500.0C115.7,502.9 116.6,507.0 116.2,510.0C115.9,513.1 113.4,516.9 113.8,520.0C114.2,523.3 117.2,527.0 118.8,530.0C120.2,533.0 122.4,536.9 123.8,540.0C125.0,542.9 127.0,546.8 127.5,550.0C127.8,551.9 126.9,554.5 126.2,556.2C125.8,557.5 124.5,558.9 123.8,560.0 M127.5,552.5C128.2,554.8 128.8,558.0 130.0,560.0C131.1,561.8 133.5,563.5 135.0,565.0C136.1,563.5 137.4,561.3 138.8,560.0C139.7,559.0 141.4,558.2 142.5,557.5C144.0,559.0 145.7,561.4 147.5,562.5C150.3,564.1 154.4,565.3 157.5,566.2C160.5,567.2 164.5,568.0 167.5,568.8 M140.0,562.5C141.1,565.5 143.0,569.4 143.8,572.5C144.6,576.2 145.0,581.2 145.5,585.0 M137.5,563.8C138.6,567.1 140.2,571.6 141.2,575.0C142.1,577.6 143.0,581.1 143.8,583.8 M135.0,567.5C134.6,570.5 134.1,574.5 133.8,577.5C133.3,581.2 131.9,586.3 132.5,590.0C133.1,593.3 135.6,597.2 137.5,600.0C139.0,602.2 142.0,604.3 143.8,606.2C144.6,607.3 145.5,608.9 146.2,610.0C144.8,612.2 142.3,615.0 141.2,617.5C140.0,620.3 138.5,624.4 138.8,627.5C138.9,630.0 141.5,632.7 142.5,635.0C143.8,637.9 145.1,642.0 146.2,645.0C147.4,648.0 148.7,652.1 150.0,655.0C151.3,658.1 153.5,662.0 155.0,665.0C156.1,667.2 158.1,670.1 158.8,672.5C159.3,674.7 157.9,677.9 158.8,680.0C159.5,682.0 163.4,682.9 163.8,685.0C164.3,688.1 162.0,692.0 161.2,695.0C160.5,697.6 158.5,701.0 158.8,703.8C158.9,705.6 160.9,707.7 162.5,708.8C164.5,710.1 167.8,710.5 170.0,711.2C173.0,712.3 177.1,713.7 180.0,715.0C183.1,716.3 187.2,718.1 190.0,720.0C192.2,721.5 194.6,724.2 196.2,726.2C197.6,728.0 198.3,731.1 200.0,732.5C202.6,734.6 207.0,736.1 210.0,737.5C212.6,738.7 216.9,739.0 218.8,741.2C220.7,743.6 219.6,748.6 221.2,751.2C222.4,753.1 225.9,753.5 227.5,755.0C230.1,757.3 232.8,761.1 235.0,763.8C237.3,766.7 240.4,770.6 242.5,773.8C244.2,776.3 246.5,779.6 247.5,782.5C248.5,785.4 249.0,789.5 248.8,792.5C248.6,795.2 246.0,798.5 246.2,801.2C246.4,803.1 249.4,804.5 250.0,806.2C250.9,808.7 250.7,812.4 251.2,815.0C251.9,818.0 252.7,822.1 253.8,825.0C254.9,828.1 257.2,832.0 258.8,835.0 M158.8,725.0C161.0,726.1 164.2,727.4 166.2,728.8C167.6,729.6 168.9,731.4 170.0,732.5 M166.2,731.2 170.0,733.8 M175.0,730.0 187.5,732.5 M177.5,732.0 186.2,734.0 M376.2,690.0C375.1,691.5 374.0,693.9 372.5,695.0C371.2,695.9 369.0,695.9 367.5,696.2C366.4,694.4 365.6,691.2 363.8,690.0C361.9,688.7 358.4,687.9 356.2,688.8C354.0,689.6 351.9,692.7 351.2,695.0C350.3,698.6 351.6,703.8 351.2,707.5C350.9,711.3 349.5,716.2 348.8,720.0C348.0,723.8 346.2,728.7 346.2,732.5C346.2,735.6 347.9,739.5 348.8,742.5C349.8,746.3 350.8,751.5 352.5,755.0C353.5,757.2 356.0,759.4 357.5,761.2C355.2,762.4 352.0,763.5 350.0,765.0C347.5,766.9 344.1,769.7 342.5,772.5C341.0,775.2 341.4,779.7 340.0,782.5C338.7,785.1 335.1,787.4 333.8,790.0C332.4,792.8 331.0,796.9 331.2,800.0C331.4,802.5 334.6,805.0 335.0,807.5C335.4,809.8 335.0,813.1 333.8,815.0C332.9,816.4 330.1,816.5 328.8,817.5C326.4,819.2 323.5,821.9 321.2,823.8 M912.5,463.8C912.4,466.4 911.3,470.0 912.0,472.5C912.5,474.4 915.8,475.6 916.2,477.5C916.8,480.1 915.8,483.7 915.0,486.2C914.3,488.7 912.4,491.5 911.2,493.8 M860.0,482.5C862.2,484.4 865.0,487.2 867.5,488.8C869.2,489.8 871.7,491.5 873.8,491.2C875.9,491.0 877.9,488.1 880.0,487.5C882.9,486.7 887.1,486.4 890.0,487.0C892.5,487.5 895.2,490.0 897.5,491.2C899.7,492.4 902.8,493.8 905.0,495.0C906.9,496.0 909.4,497.6 911.2,498.8 M911.2,493.8C912.4,496.4 913.9,499.8 915.0,502.5C916.2,505.5 917.5,509.6 918.8,512.5C920.1,515.6 922.5,519.4 923.8,522.5C925.1,525.8 926.4,530.4 927.5,533.8C928.3,536.4 929.2,539.9 930.0,542.5C930.7,544.8 931.9,547.7 932.5,550.0C933.4,553.7 934.8,558.7 935.0,562.5C935.1,564.8 933.3,567.8 933.8,570.0C934.1,572.2 936.7,574.2 937.5,576.2C938.6,578.8 938.9,582.5 940.0,585.0C941.1,587.5 943.5,590.2 945.0,592.5C946.2,594.3 947.4,597.0 948.8,598.8C950.4,600.8 952.5,604.0 955.0,605.0C956.8,605.7 959.4,604.1 961.2,603.8C961.2,605.6 962.0,608.3 961.2,610.0C960.4,611.9 957.8,613.5 956.2,615.0C957.4,616.9 958.8,619.4 960.0,621.2C961.8,623.9 963.9,627.8 966.2,630.0C967.4,631.1 969.8,631.4 971.2,632.0 M938.8,575.0C973.2,573.6 1019.3,569.1 1053.8,570.5C1057.6,570.7 1059.9,577.1 1062.5,580.0 M1050.0,440.0C1052.6,441.1 1056.8,441.6 1058.8,443.8C1060.6,445.8 1060.6,449.9 1061.2,452.5C1062.1,455.9 1062.6,460.5 1063.8,463.8C1064.5,465.8 1067.0,467.9 1067.5,470.0C1068.2,473.3 1066.6,478.0 1067.5,481.2C1068.2,483.9 1070.5,486.9 1072.5,488.8C1074.4,490.4 1078.2,490.7 1080.0,492.5C1081.8,494.3 1082.3,497.9 1083.8,500.0C1085.7,502.8 1089.0,506.2 1091.2,508.8C1092.9,510.7 1096.4,512.5 1097.0,515.0C1097.7,518.0 1096.1,522.1 1095.0,525.0C1093.9,527.8 1092.3,531.8 1090.0,533.8C1087.5,535.8 1082.9,536.2 1080.0,537.5C1077.7,538.5 1074.2,539.4 1072.5,541.2C1071.2,542.7 1070.7,545.7 1071.2,547.5C1072.0,550.1 1075.9,552.3 1076.2,555.0C1076.7,558.1 1075.4,562.4 1073.8,565.0C1071.9,567.9 1067.1,569.7 1065.0,572.5C1063.6,574.4 1063.0,577.7 1062.5,580.0C1061.9,583.0 1061.1,587.0 1061.2,590.0C1061.5,593.5 1062.4,598.1 1063.8,601.2C1065.0,604.2 1067.9,607.6 1070.0,610.0C1072.4,612.8 1076.1,616.1 1078.8,618.8C1081.0,621.0 1084.3,623.7 1086.2,626.2C1088.1,628.6 1089.8,632.4 1091.2,635.0C1093.5,634.6 1096.5,633.5 1098.8,633.8C1100.8,633.9 1103.1,635.5 1105.0,636.2C1104.2,639.6 1103.4,644.2 1102.5,647.5C1101.5,650.9 1098.3,655.2 1098.8,658.8C1099.1,661.7 1102.8,664.3 1105.0,666.2C1107.8,668.8 1112.2,671.3 1115.0,673.8C1117.8,676.2 1121.5,679.6 1123.8,682.5C1125.3,684.5 1126.7,687.6 1127.5,690.0C1128.2,692.2 1127.7,695.5 1128.8,697.5C1129.7,699.4 1132.2,701.0 1133.8,702.5C1135.6,704.4 1139.0,706.3 1140.0,708.8C1141.0,711.2 1141.0,715.1 1140.0,717.5C1139.3,719.2 1136.6,720.2 1135.0,721.2C1133.2,722.5 1130.2,723.3 1128.8,725.0C1127.7,726.2 1127.8,728.5 1127.5,730.0C1127.0,733.0 1126.9,737.1 1126.2,740.0C1125.8,742.0 1124.7,744.4 1123.8,746.2C1122.4,749.0 1119.8,752.2 1118.8,755.0C1117.9,757.1 1118.2,760.3 1117.5,762.5C1116.7,764.9 1114.4,767.6 1113.8,770.0C1112.9,772.9 1113.6,777.2 1112.5,780.0C1111.3,783.0 1108.0,786.0 1106.2,788.8C1104.6,791.3 1102.4,794.7 1101.2,797.5C1100.1,800.4 1100.1,804.7 1098.8,807.5C1097.4,810.1 1094.4,812.8 1092.5,815.0 M1161.2,440.0C1160.5,444.5 1158.9,450.4 1158.8,455.0C1158.5,460.3 1159.6,467.2 1160.0,472.5C1160.4,478.5 1160.5,486.5 1161.2,492.5C1161.6,495.6 1162.6,499.6 1163.8,502.5C1165.2,506.1 1168.3,510.3 1170.0,513.8C1171.3,516.3 1171.7,520.5 1173.8,522.5C1175.1,523.9 1178.1,524.0 1180.0,523.8C1183.2,523.3 1187.2,521.5 1190.0,520.0C1192.1,518.9 1194.9,517.0 1196.2,515.0C1198.7,511.6 1201.2,506.5 1202.5,502.5C1204.2,497.4 1206.1,490.4 1206.2,485.0C1206.4,479.7 1205.3,472.6 1203.8,467.5C1202.3,462.7 1198.0,457.2 1196.2,452.5C1194.9,448.9 1194.5,443.8 1193.8,440.0 M1181.2,618.8C1180.1,619.1 1178.6,619.6 1177.5,620.0C1179.0,623.0 1181.9,626.7 1182.5,630.0C1183.1,633.0 1182.2,637.1 1181.2,640.0C1180.2,643.2 1177.9,647.1 1176.2,650.0C1174.9,652.3 1172.2,655.0 1171.2,657.5C1170.3,660.0 1170.4,663.6 1170.0,666.2C1169.7,668.5 1168.8,671.5 1168.8,673.8C1168.8,676.4 1169.6,679.9 1170.0,682.5C1167.4,684.0 1163.7,685.8 1161.2,687.5C1159.9,688.4 1157.7,689.7 1157.5,691.2C1157.2,694.0 1159.2,697.4 1160.0,700.0C1157.8,700.4 1154.8,701.4 1152.5,701.2C1148.7,701.0 1143.8,698.5 1140.0,698.8C1138.1,698.9 1136.5,701.4 1135.0,702.5 M1170.0,667.5C1172.2,667.1 1175.2,666.0 1177.5,666.2C1179.2,666.4 1180.8,668.8 1182.5,668.8C1184.9,668.8 1187.6,666.0 1190.0,666.2C1192.2,666.4 1194.4,668.9 1196.2,670.0C1198.1,668.1 1200.6,665.6 1202.5,663.8C1204.8,664.5 1207.8,665.5 1210.0,666.2C1211.9,664.4 1214.6,662.1 1216.2,660.0C1217.6,658.3 1218.9,655.6 1220.0,653.8C1221.5,655.2 1223.2,657.6 1225.0,658.8C1226.3,659.6 1228.5,659.6 1230.0,660.0 M1128.8,725.0C1141.5,724.1 1158.5,722.9 1171.2,722.0C1171.6,719.9 1172.1,717.1 1172.5,715.0C1174.8,714.9 1177.8,714.7 1180.0,714.5C1195.0,713.2 1215.0,711.4 1230.0,710.0 M971.2,732.5C1012.1,730.6 1066.6,725.9 1107.5,726.2C1110.4,726.3 1111.9,731.5 1113.8,733.8C1110.4,737.5 1105.9,742.5 1102.5,746.2C1108.5,745.9 1116.5,745.4 1122.5,745.0 M805.0,802.5C807.2,804.4 810.0,807.3 812.5,808.8C814.5,809.9 817.6,811.0 820.0,811.2C821.9,811.4 824.4,810.4 826.2,810.0C827.0,811.5 828.0,813.5 828.8,815.0 M1200.0,515.0C1215.4,513.9 1235.9,512.7 1251.2,511.2C1262.2,510.3 1276.6,508.3 1287.5,507.0 M1200.0,455.0C1201.9,461.8 1205.6,470.5 1206.2,477.5C1206.8,483.5 1205.0,491.6 1203.8,497.5C1203.1,500.3 1201.1,503.6 1200.0,506.2 M1301.2,480.0C1303.9,479.2 1307.4,478.2 1310.0,477.5C1310.8,478.6 1311.8,480.1 1312.5,481.2C1308.8,482.4 1303.5,483.2 1300.0,485.0C1298.1,485.9 1295.9,488.1 1295.0,490.0C1293.6,492.8 1293.6,497.1 1292.5,500.0C1291.7,502.2 1289.9,504.9 1288.8,507.0C1292.1,508.6 1296.4,511.6 1300.0,512.5C1304.4,513.6 1310.5,514.1 1315.0,513.8C1319.6,513.4 1325.6,511.5 1330.0,510.0C1333.2,508.9 1337.2,506.9 1340.0,505.0C1343.3,502.7 1346.9,498.7 1350.0,496.2C1353.6,493.4 1358.7,490.0 1362.5,487.5C1366.2,485.1 1371.2,482.2 1375.0,480.0C1378.8,477.8 1383.9,475.0 1387.5,472.5C1391.4,469.7 1396.6,465.9 1400.0,462.5C1403.4,459.1 1407.5,454.1 1410.0,450.0C1411.3,448.0 1411.8,444.8 1412.5,442.5 M1300.0,512.5C1302.2,513.4 1305.1,515.2 1307.5,515.5C1310.5,515.9 1314.5,515.1 1317.5,515.0 M1312.5,481.2C1314.8,479.4 1317.6,476.7 1320.0,475.0C1322.9,472.9 1326.9,470.5 1330.0,468.8C1332.9,467.1 1336.7,464.6 1340.0,463.8C1344.4,462.7 1350.5,462.7 1355.0,462.5C1359.5,462.3 1365.5,462.3 1370.0,462.5C1373.0,462.7 1377.0,463.4 1380.0,463.8C1377.8,462.2 1374.8,460.2 1372.5,458.8C1374.8,457.2 1377.6,455.0 1380.0,453.8C1383.6,451.9 1388.7,450.1 1392.5,448.8C1396.2,447.5 1401.3,446.2 1405.0,445.0C1407.3,444.3 1410.2,443.2 1412.5,442.5 M1262.5,615.0C1264.0,613.9 1265.7,611.6 1267.5,611.2C1269.7,610.8 1273.0,611.3 1275.0,612.5C1277.1,613.7 1278.0,617.4 1280.0,618.8C1281.9,620.1 1285.4,620.2 1287.5,621.2C1289.9,622.5 1292.3,625.8 1295.0,626.2C1297.3,626.6 1300.1,623.8 1302.5,623.8C1304.9,623.8 1307.7,626.7 1310.0,626.2C1313.5,625.5 1317.0,621.9 1320.0,620.0C1321.5,621.5 1323.5,623.5 1325.0,625.0C1326.5,626.5 1328.0,629.3 1330.0,630.0C1331.8,630.6 1334.9,630.1 1336.2,628.8C1338.3,626.7 1339.1,622.7 1340.0,620.0C1341.0,617.1 1340.8,612.6 1342.5,610.0C1344.0,607.8 1348.5,607.2 1350.0,605.0C1351.7,602.4 1350.9,597.6 1352.5,595.0C1354.0,592.5 1357.8,590.6 1360.0,588.8C1362.2,586.9 1365.4,584.6 1367.5,582.5C1369.2,580.8 1371.4,578.4 1372.5,576.2C1374.1,573.1 1375.4,568.5 1376.2,565.0C1377.3,560.6 1379.0,554.6 1378.8,550.0C1378.6,546.8 1375.5,543.2 1375.0,540.0C1374.7,538.5 1375.9,536.5 1376.2,535.0 M1262.5,615.0C1262.9,617.2 1263.4,620.2 1263.8,622.5C1261.5,624.0 1258.7,626.4 1256.2,627.5C1253.8,628.6 1249.5,628.2 1247.5,630.0C1245.7,631.6 1246.1,635.4 1245.0,637.5C1243.8,639.9 1241.6,642.8 1240.0,645.0C1238.2,647.3 1235.4,650.1 1233.8,652.5C1232.4,654.6 1231.1,657.8 1230.0,660.0C1228.1,659.2 1225.6,658.4 1223.8,657.5C1221.8,656.5 1219.4,654.9 1217.5,653.8C1216.4,656.4 1215.6,660.4 1213.8,662.5C1212.4,664.0 1209.5,665.2 1207.5,665.0C1205.0,664.8 1202.2,662.4 1200.0,661.2 M1336.2,628.8C1334.8,630.2 1331.8,631.7 1331.2,633.8C1330.6,636.3 1331.5,640.1 1332.5,642.5C1333.8,645.5 1336.8,648.7 1338.8,651.2C1340.9,654.0 1343.7,657.7 1346.2,660.0C1347.9,661.5 1350.6,662.6 1352.5,663.8C1349.5,667.1 1345.4,671.5 1342.5,675.0C1340.1,677.9 1337.5,682.2 1335.0,685.0C1332.2,688.2 1328.4,692.5 1325.0,695.0C1322.3,697.0 1318.0,698.5 1315.0,700.0C1312.8,701.1 1309.8,702.6 1307.5,703.8 M1352.5,663.8C1354.4,665.6 1356.4,668.7 1358.8,670.0C1360.8,671.1 1364.0,671.9 1366.2,671.2C1368.6,670.6 1370.2,666.9 1372.5,666.2C1374.7,665.6 1377.9,668.4 1380.0,667.5C1382.9,666.3 1384.7,661.6 1387.5,660.0C1390.2,658.5 1394.7,658.7 1397.5,657.5C1400.0,656.4 1403.7,654.8 1405.0,652.5C1406.9,649.2 1406.4,643.7 1407.5,640.0C1408.7,636.1 1411.1,631.3 1412.5,627.5C1414.1,623.0 1414.6,616.3 1417.5,612.5C1418.9,610.7 1423.0,612.3 1425.0,611.2C1427.6,609.9 1430.7,607.3 1432.5,605.0C1434.2,602.7 1434.3,598.4 1436.2,596.2C1437.9,594.4 1442.0,594.3 1443.8,592.5C1446.3,590.0 1448.8,585.8 1450.0,582.5C1451.1,579.3 1450.9,574.6 1451.2,571.2C1456.5,573.5 1463.5,576.5 1468.8,578.8C1468.4,576.1 1468.6,572.4 1467.5,570.0C1466.3,567.3 1463.1,564.8 1461.2,562.5 M1416.2,567.5C1417.0,573.1 1418.0,580.6 1418.8,586.2C1422.1,582.9 1426.6,578.4 1430.0,575.0C1431.5,573.5 1433.3,571.3 1435.0,570.0C1436.7,568.7 1439.2,566.9 1441.2,566.2C1443.8,565.4 1447.4,565.5 1450.0,565.0C1453.4,564.4 1458.0,561.3 1461.2,562.5C1465.0,563.9 1467.2,569.7 1470.0,572.5C1472.1,574.6 1474.9,577.4 1477.5,578.8C1480.3,580.1 1484.7,579.9 1487.5,581.2C1490.1,582.6 1492.8,585.6 1495.0,587.5C1493.5,589.8 1491.2,592.6 1490.0,595.0C1488.9,597.1 1488.2,600.2 1487.5,602.5 M1200.0,712.5C1215.0,711.4 1235.0,710.0 1250.0,708.8C1267.3,707.3 1290.3,705.9 1307.5,703.8C1324.1,701.7 1346.0,697.7 1362.5,695.0C1388.8,690.6 1423.7,684.4 1450.0,680.0C1477.0,675.4 1513.0,669.5 1540.0,665.0 M1362.5,696.2C1364.8,697.4 1367.8,698.9 1370.0,700.0C1368.5,703.0 1367.3,707.5 1365.0,710.0C1362.6,712.6 1358.1,714.5 1355.0,716.2C1352.1,717.9 1348.0,719.8 1345.0,721.2C1342.4,722.5 1338.4,723.2 1336.2,725.0C1333.8,727.1 1332.5,731.7 1330.0,733.8C1326.7,736.4 1321.2,738.0 1317.5,740.0C1314.4,741.7 1310.3,744.0 1307.5,746.2C1304.6,748.6 1300.7,751.8 1298.8,755.0C1297.2,757.7 1297.0,762.0 1296.2,765.0 M1296.2,765.0C1306.4,763.9 1320.0,763.2 1330.0,761.2C1333.3,760.6 1336.9,757.5 1340.0,756.2C1344.4,754.5 1350.3,752.1 1355.0,751.2C1366.9,749.1 1382.9,746.6 1395.0,746.2C1398.2,746.2 1402.7,747.7 1405.0,750.0C1406.9,751.9 1406.8,756.1 1407.5,758.8C1418.0,756.9 1432.2,749.6 1442.5,752.5C1456.5,756.5 1470.5,771.8 1482.5,780.0 M1330.0,761.2C1328.9,764.6 1327.4,769.1 1326.2,772.5C1328.9,774.8 1332.1,778.1 1335.0,780.0C1337.8,781.9 1342.5,782.8 1345.0,785.0C1348.6,788.2 1351.8,793.9 1355.0,797.5C1357.8,800.7 1362.0,804.5 1365.0,807.5C1367.2,809.8 1370.2,812.8 1372.5,815.0 M1256.2,773.8 1267.5,815.0 M1540.0,665.0C1542.2,668.8 1545.0,673.9 1547.5,677.5C1550.3,681.4 1554.7,686.1 1557.5,690.0C1560.0,693.6 1563.0,698.6 1565.0,702.5C1566.1,704.6 1566.8,707.8 1567.5,710.0C1565.2,711.9 1562.5,714.8 1560.0,716.2C1558.0,717.4 1554.8,718.0 1552.5,718.8 M1522.5,681.2C1522.9,683.9 1523.4,687.4 1523.8,690.0C1527.1,690.0 1531.9,691.4 1535.0,690.0C1537.5,688.9 1538.5,684.8 1540.0,682.5C1542.2,683.6 1545.9,684.3 1547.5,686.2C1549.2,688.4 1550.5,692.3 1550.0,695.0C1549.6,697.1 1546.5,698.5 1545.0,700.0C1547.2,700.8 1550.2,701.8 1552.5,702.5C1551.8,704.4 1550.8,706.9 1550.0,708.8C1545.5,708.8 1539.5,708.6 1535.0,708.8C1529.7,709.0 1522.8,709.6 1517.5,710.0C1522.0,711.1 1528.7,711.1 1532.5,713.8C1534.7,715.3 1534.2,719.9 1535.0,722.5C1530.5,722.9 1524.5,723.4 1520.0,723.8C1522.2,725.6 1524.7,729.3 1527.5,730.0C1531.2,730.9 1536.3,729.2 1540.0,728.8C1542.3,728.5 1545.2,727.9 1547.5,727.5C1546.0,730.5 1545.3,735.7 1542.5,737.5C1539.3,739.5 1533.7,738.0 1530.0,738.8C1524.7,739.9 1517.8,742.2 1512.5,743.8C1512.5,745.6 1513.1,748.2 1512.5,750.0C1511.6,752.5 1509.0,755.2 1507.5,757.5C1506.0,759.8 1503.8,762.7 1502.5,765.0C1500.8,767.9 1500.2,773.0 1497.5,775.0C1493.7,777.8 1486.4,777.4 1482.5,780.0C1479.4,782.1 1477.0,786.8 1475.0,790.0C1472.8,793.6 1470.6,798.8 1468.8,802.5C1467.2,805.5 1465.2,809.5 1463.8,812.5C1463.4,813.2 1462.9,814.2 1462.5,815.0 M1535.0,690.0C1537.2,690.8 1540.7,690.9 1542.5,692.5C1544.4,694.2 1545.1,697.8 1546.2,700.0 M1487.5,602.5C1491.2,603.2 1496.4,603.6 1500.0,605.0C1504.1,606.6 1508.5,610.7 1512.5,612.5C1515.3,613.8 1519.5,614.2 1522.5,615.0 M1487.5,602.5C1490.5,603.6 1494.8,604.6 1497.5,606.2C1500.9,608.4 1504.6,612.3 1507.5,615.0C1510.6,617.9 1514.9,621.7 1517.5,625.0C1520.2,628.5 1522.8,633.8 1525.0,637.5 M1496.2,612.5C1499.6,613.2 1504.4,613.4 1507.5,615.0C1511.7,617.2 1516.4,621.9 1520.0,625.0C1521.6,626.4 1523.5,628.5 1525.0,630.0 M1511.2,633.8C1513.5,635.6 1516.7,637.9 1518.8,640.0C1520.8,642.1 1523.1,645.2 1525.0,647.5 M1497.5,643.8C1500.5,643.4 1504.5,641.9 1507.5,642.5C1510.8,643.1 1514.7,645.7 1517.5,647.5C1520.7,649.5 1523.9,654.0 1527.5,655.0C1529.8,655.7 1532.8,653.2 1535.0,652.5C1536.5,656.2 1538.5,661.2 1540.0,665.0 M1510.0,633.8C1513.0,636.4 1517.3,639.6 1520.0,642.5C1522.6,645.2 1525.2,649.5 1527.5,652.5 M1555.0,600.0C1553.5,603.8 1551.5,608.8 1550.0,612.5C1548.5,616.2 1546.5,621.2 1545.0,625.0C1543.5,628.8 1541.4,633.7 1540.0,637.5C1539.5,639.0 1539.1,641.0 1538.8,642.5 M1536.2,610.0C1538.1,610.8 1540.6,611.8 1542.5,612.5C1541.4,616.2 1539.7,621.2 1538.8,625.0C1537.8,628.7 1537.0,633.8 1536.2,637.5 M247.5,800.0C248.6,803.0 250.5,806.9 251.2,810.0C252.4,814.4 252.7,820.6 253.8,825.0C254.6,828.8 257.2,833.6 257.5,837.5C257.6,838.6 255.8,839.2 255.0,840.0C256.5,843.0 258.8,846.9 260.0,850.0C261.4,853.6 262.7,858.7 263.8,862.5C264.6,865.5 265.3,869.6 266.2,872.5C267.5,876.3 270.4,881.1 271.2,885.0C272.3,889.4 272.5,895.5 272.5,900.0C272.5,903.8 270.6,908.8 271.2,912.5C271.8,915.8 274.3,919.7 276.2,922.5C278.5,925.8 282.2,929.7 285.0,932.5C287.4,934.9 291.5,937.4 293.8,940.0C296.1,942.7 298.1,947.0 300.0,950.0C301.9,953.0 304.5,956.9 306.2,960.0C308.3,963.7 310.8,968.7 312.5,972.5C313.8,975.4 315.8,979.3 316.2,982.5C316.6,984.8 315.9,987.9 315.0,990.0C314.0,992.5 311.7,995.4 310.0,997.5C308.7,999.2 306.5,1001.0 305.0,1002.5C306.5,1005.5 308.5,1009.5 310.0,1012.5C308.9,1010.2 308.0,1006.8 306.2,1005.0C304.1,1002.9 300.4,1000.8 297.5,1000.0C294.6,999.2 290.5,1000.2 287.5,1000.0C284.9,999.8 281.4,999.1 278.8,998.8C279.9,1000.6 281.1,1003.3 282.5,1005.0C284.5,1007.5 288.2,1009.9 290.0,1012.5C291.3,1014.5 291.4,1017.9 292.5,1020.0C293.7,1022.4 295.5,1025.7 297.5,1027.5C299.4,1029.2 303.0,1029.7 305.0,1031.2C306.9,1032.8 308.4,1035.7 310.0,1037.5C311.8,1039.5 314.3,1042.0 316.2,1043.8C318.0,1045.4 320.1,1048.3 322.5,1048.8C324.8,1049.2 327.6,1046.5 330.0,1046.2C331.5,1046.1 333.5,1047.1 335.0,1047.5C335.4,1049.8 335.2,1053.0 336.2,1055.0C337.6,1057.6 340.5,1060.3 342.5,1062.5C344.7,1064.8 347.8,1067.8 350.0,1070.0C352.2,1072.2 355.7,1074.9 357.5,1077.5C359.4,1080.2 361.3,1084.4 362.5,1087.5C363.6,1090.4 364.8,1094.4 365.0,1097.5C365.2,1100.5 364.3,1104.5 363.8,1107.5C363.2,1110.5 362.3,1114.6 361.2,1117.5C360.4,1119.9 358.7,1122.8 357.5,1125.0C356.1,1127.7 354.0,1131.1 352.5,1133.8C354.8,1130.4 357.8,1125.9 360.0,1122.5C360.8,1126.2 361.2,1131.4 362.5,1135.0C363.4,1137.5 366.0,1140.2 367.5,1142.5C369.0,1144.8 371.0,1147.8 372.5,1150.0 M273.8,978.8C274.4,977.7 276.4,977.9 277.5,977.5C277.1,980.1 276.6,983.6 276.2,986.2C274.8,986.6 272.8,987.1 271.2,987.5C272.0,984.9 272.3,981.1 273.8,978.8Z M315.0,846.2C314.2,849.6 313.0,854.1 312.5,857.5C311.9,862.0 311.6,868.0 311.2,872.5C310.9,877.0 310.0,883.0 310.0,887.5C310.0,892.8 310.4,899.8 311.2,905.0C311.9,908.9 313.5,913.9 315.0,917.5C316.6,921.4 319.2,926.3 321.2,930.0C323.0,933.1 325.6,937.0 327.5,940.0C329.4,943.0 332.0,946.9 333.8,950.0C335.4,952.9 337.6,956.8 338.8,960.0C339.5,962.1 339.0,965.5 340.0,967.5C340.9,969.4 343.7,970.8 345.0,972.5C346.7,974.6 348.9,977.5 350.0,980.0C351.2,982.8 351.3,987.2 352.5,990.0C353.6,992.5 356.6,995.0 357.5,997.5C358.5,1000.3 358.0,1004.6 358.8,1007.5C359.5,1010.6 361.1,1014.6 362.5,1017.5C363.7,1019.9 366.3,1022.6 367.5,1025.0C368.9,1027.9 370.2,1032.0 371.2,1035.0C372.1,1037.6 372.5,1041.3 373.8,1043.8C375.2,1046.6 378.3,1049.8 380.0,1052.5C381.3,1054.6 382.6,1057.8 383.8,1060.0C384.9,1062.2 386.7,1065.1 387.5,1067.5C388.5,1070.4 389.1,1074.5 390.0,1077.5C391.0,1080.6 393.0,1084.4 393.8,1087.5C394.5,1090.4 394.4,1094.5 395.0,1097.5C395.5,1099.8 396.8,1102.7 397.5,1105.0C398.3,1108.0 399.1,1112.0 400.0,1115.0C401.0,1118.1 402.5,1122.1 403.8,1125.0C404.7,1127.3 406.7,1130.1 407.5,1132.5C408.2,1134.7 408.0,1137.8 408.8,1140.0C409.2,1141.3 410.6,1142.5 411.2,1143.8C412.2,1145.6 413.0,1148.1 413.8,1150.0 M340.0,943.8C341.5,944.1 344.0,943.8 345.0,945.0C347.7,948.2 350.0,953.5 351.2,957.5C351.9,959.6 351.2,962.8 351.2,965.0C349.8,964.2 347.3,963.8 346.2,962.5C344.2,959.9 342.3,955.7 341.2,952.5C340.4,950.0 340.4,946.4 340.0,943.8Z M376.2,963.8C378.1,964.9 380.6,966.4 382.5,967.5C381.8,970.9 380.8,975.4 380.0,978.8C377.8,978.0 374.4,977.6 372.5,976.2C371.5,975.6 370.9,973.6 371.2,972.5C372.1,969.6 374.8,966.4 376.2,963.8Z M315.0,846.2C317.2,848.5 320.1,851.7 322.5,853.8C325.3,856.2 329.4,859.1 332.5,861.2C334.7,862.8 337.8,864.8 340.0,866.2C341.5,865.1 343.5,863.6 345.0,862.5C347.2,864.4 351.0,866.2 352.5,868.8C353.5,870.4 352.5,873.1 352.5,875.0C355.5,876.5 359.6,878.3 362.5,880.0C364.8,881.3 367.8,883.5 370.0,885.0C369.6,887.2 369.3,890.3 368.8,892.5C368.2,894.8 366.1,897.6 366.2,900.0C366.5,903.9 369.1,908.7 370.0,912.5C370.9,916.2 371.7,921.3 372.5,925.0C373.5,929.5 375.0,935.5 376.2,940.0C377.3,943.8 378.8,948.8 380.0,952.5C381.0,955.5 382.7,959.5 383.8,962.5C385.0,966.2 385.9,971.4 387.5,975.0C389.3,979.0 392.8,983.8 395.0,987.5C397.2,991.2 400.1,996.4 402.5,1000.0C404.6,1003.1 407.7,1007.1 410.0,1010.0C412.2,1012.7 414.8,1016.6 417.5,1018.8C419.8,1020.5 423.9,1020.9 426.2,1022.5C427.8,1023.6 429.7,1025.7 430.0,1027.5C430.5,1030.5 428.4,1034.5 428.8,1037.5C429.1,1040.7 430.8,1044.8 432.5,1047.5C434.2,1050.2 437.6,1052.9 440.0,1055.0C441.8,1056.6 444.9,1058.0 446.2,1060.0C448.0,1062.7 448.0,1067.5 450.0,1070.0C451.6,1071.9 455.6,1072.1 457.5,1073.8C460.2,1076.0 463.0,1079.7 465.0,1082.5C466.8,1085.0 468.5,1088.6 470.0,1091.2C469.2,1092.4 468.5,1094.0 467.5,1095.0C465.8,1096.7 462.2,1097.8 461.2,1100.0C459.8,1103.5 459.3,1108.8 460.0,1112.5C460.5,1115.2 463.5,1117.8 465.0,1120.0C466.9,1119.6 469.4,1119.2 471.2,1118.8C472.8,1118.4 474.8,1117.9 476.2,1117.5C477.4,1119.8 478.5,1123.0 480.0,1125.0C481.9,1127.5 485.2,1130.2 487.5,1132.5C489.8,1134.8 492.6,1137.9 495.0,1140.0C496.4,1141.3 498.7,1142.4 500.0,1143.8C501.7,1145.4 503.5,1148.1 505.0,1150.0 M330.0,817.5C331.9,816.4 334.9,815.5 336.2,813.8C337.4,812.2 338.0,809.3 337.5,807.5C336.8,804.9 334.0,802.2 332.5,800.0 M585.0,893.0C583.9,890.6 582.4,887.4 581.2,885.0C582.4,886.5 584.1,888.4 585.0,890.0C586.7,892.9 588.2,897.2 590.0,900.0C592.0,903.2 595.2,907.0 597.5,910.0C600.4,913.8 604.4,918.8 607.5,922.5C610.4,926.0 614.2,930.7 617.5,933.8C620.2,936.3 624.8,938.6 627.5,941.2C629.8,943.5 632.4,947.1 633.8,950.0C635.4,953.5 636.4,958.8 637.5,962.5C638.6,966.2 639.8,971.4 641.2,975.0C642.4,977.8 644.4,981.4 646.2,983.8C648.5,986.7 652.1,990.2 655.0,992.5C657.8,994.7 662.1,996.7 665.0,998.8C668.1,1000.9 671.9,1004.1 675.0,1006.2C677.2,1007.8 679.9,1010.5 682.5,1011.2C684.0,1011.7 686.2,1010.8 687.5,1010.0C689.3,1008.9 691.0,1006.5 692.5,1005.0C693.6,1003.9 695.5,1002.7 696.2,1001.2C697.1,999.5 696.8,996.8 697.5,995.0C698.4,992.6 699.7,989.5 701.2,987.5C702.8,985.6 705.4,983.6 707.5,982.5C710.3,981.0 714.3,979.0 717.5,978.8C719.9,978.6 722.7,980.6 725.0,981.2C728.0,982.1 731.9,983.4 735.0,983.8C738.0,984.1 742.1,983.0 745.0,983.8C746.8,984.2 748.7,986.2 750.0,987.5C752.4,989.9 755.2,993.6 757.5,996.2C759.8,998.9 763.0,1002.2 765.0,1005.0C767.1,1007.9 769.6,1011.9 771.2,1015.0C773.0,1018.3 774.6,1022.9 776.2,1026.2C777.6,1029.0 780.1,1032.2 781.2,1035.0C782.0,1036.8 781.6,1039.5 782.5,1041.2C783.9,1044.1 786.9,1047.4 788.8,1050.0C790.6,1052.6 793.2,1056.1 795.0,1058.8C796.5,1061.0 798.3,1064.2 800.0,1066.2C801.7,1068.3 804.8,1070.3 806.2,1072.5C807.5,1074.5 808.6,1077.6 808.8,1080.0C809.0,1083.0 807.1,1087.0 807.5,1090.0C807.9,1092.5 810.0,1095.3 811.2,1097.5C812.6,1099.8 815.0,1102.6 816.2,1105.0C817.7,1107.9 818.4,1112.2 820.0,1115.0C821.1,1116.8 823.2,1118.9 825.0,1120.0C827.8,1121.6 832.1,1122.5 835.0,1123.8C838.1,1125.1 841.9,1127.5 845.0,1128.8C848.6,1130.2 853.7,1131.6 857.5,1132.5C861.2,1133.4 866.3,1133.9 870.0,1135.0C872.4,1135.8 875.2,1137.6 877.5,1138.8C879.0,1139.5 880.8,1141.2 882.5,1141.2C884.2,1141.2 886.0,1139.5 887.5,1138.8 M801.2,801.2C802.8,802.8 804.5,805.1 806.2,806.2C808.7,807.8 812.2,809.6 815.0,810.0C817.3,810.3 820.2,809.1 822.5,808.8C824.0,811.4 825.1,815.7 827.5,817.5C830.0,819.4 834.5,819.2 837.5,820.0C841.3,821.0 846.1,823.6 850.0,823.8C854.2,823.9 859.6,822.0 863.8,821.2C865.2,824.2 867.2,828.2 868.8,831.2C870.6,830.1 873.1,828.6 875.0,827.5C877.2,829.0 879.9,831.8 882.5,832.5C884.7,833.1 887.8,831.6 890.0,831.2C890.8,833.1 891.8,835.6 892.5,837.5C894.8,835.2 897.0,831.1 900.0,830.0C902.8,829.0 907.3,830.0 910.0,831.2C913.1,832.7 916.1,836.5 918.8,838.8C921.4,837.2 924.7,834.9 927.5,833.8C931.1,832.3 936.1,830.2 940.0,830.0C942.4,829.9 945.1,832.7 947.5,832.5C950.0,832.3 952.5,828.4 955.0,828.8C958.5,829.3 962.0,833.2 965.0,835.0C968.3,837.0 972.9,839.3 976.2,841.2C978.1,842.3 980.3,844.7 982.5,845.0C985.5,845.5 989.5,844.1 992.5,843.8C992.9,861.4 993.4,884.9 993.8,902.5 M1010.0,990.0C1006.2,990.8 1001.2,991.4 997.5,992.5C993.6,993.7 988.7,995.9 985.0,997.5C981.9,998.9 978.0,1001.0 975.0,1002.5C973.5,1001.0 971.5,999.0 970.0,997.5C970.8,995.6 971.8,993.1 972.5,991.2C970.6,991.2 968.1,991.0 966.2,991.2C965.1,991.4 963.6,992.1 962.5,992.5C962.9,995.5 963.4,999.5 963.8,1002.5C965.6,1001.0 968.1,999.0 970.0,997.5 M975.0,1002.5C970.5,1005.5 964.4,1009.4 960.0,1012.5C956.9,1014.7 953.0,1017.8 950.0,1020.0C947.0,1022.2 943.0,1025.2 940.0,1027.5C937.0,1029.8 933.2,1033.0 930.0,1035.0C927.2,1036.8 923.0,1038.5 920.0,1040.0C921.5,1038.5 923.5,1036.5 925.0,1035.0C922.0,1034.6 917.9,1034.7 915.0,1033.8C913.2,1033.2 911.5,1031.1 910.0,1030.0C910.8,1033.0 912.9,1036.9 912.5,1040.0C912.1,1042.7 909.4,1045.6 907.5,1047.5C905.6,1049.4 902.4,1051.3 900.0,1052.5C897.1,1053.9 892.8,1054.7 890.0,1056.2C887.5,1057.7 884.8,1060.6 882.5,1062.5C883.2,1064.4 884.2,1066.9 885.0,1068.8C882.8,1070.6 879.0,1072.5 877.5,1075.0C876.2,1077.3 876.6,1081.1 876.2,1083.8C873.6,1082.2 870.1,1080.2 867.5,1078.8C869.0,1081.4 870.5,1085.2 872.5,1087.5C873.6,1088.8 876.0,1089.2 877.5,1090.0C876.8,1093.0 875.0,1096.9 875.0,1100.0C875.0,1103.8 876.6,1108.8 877.5,1112.5C878.4,1116.3 880.1,1121.3 881.2,1125.0C882.3,1128.4 883.5,1133.0 885.0,1136.2C885.4,1137.2 886.8,1138.0 887.5,1138.8 M957.5,1015.0C952.2,1018.4 945.3,1022.9 940.0,1026.2C934.0,1030.0 925.9,1034.8 920.0,1038.8C915.3,1041.9 909.3,1046.3 905.0,1050.0C901.0,1053.5 895.7,1058.3 892.5,1062.5C889.3,1066.6 885.6,1072.6 883.8,1077.5C882.1,1081.8 881.4,1087.9 881.2,1092.5C881.1,1097.0 881.8,1103.0 882.5,1107.5C883.3,1112.1 885.1,1118.0 886.2,1122.5C887.4,1127.0 889.7,1132.9 890.0,1137.5C890.1,1138.8 888.2,1140.1 887.5,1141.2 M993.8,902.5C995.6,905.5 998.4,909.3 1000.0,912.5C1002.2,916.9 1004.6,922.9 1006.2,927.5C1007.6,931.2 1009.8,936.1 1010.0,940.0C1010.2,944.6 1007.7,950.4 1007.5,955.0C1007.3,958.0 1008.9,962.0 1008.8,965.0C1008.6,968.1 1007.0,972.0 1006.2,975.0C1005.5,978.0 1004.9,982.1 1003.8,985.0C1003.0,986.7 1001.6,989.1 1000.0,990.0C997.3,991.5 993.0,991.8 990.0,992.5 M1101.2,800.0C1100.1,802.2 1099.0,805.5 1097.5,807.5C1095.6,810.0 1091.4,812.2 1090.0,815.0C1088.6,817.7 1089.7,822.1 1088.8,825.0C1087.7,828.2 1084.3,831.7 1083.8,835.0C1083.1,838.7 1084.6,843.7 1085.0,847.5C1085.4,851.6 1085.6,857.2 1086.2,861.2C1086.8,864.7 1088.1,869.1 1088.8,872.5C1089.3,875.5 1088.9,879.7 1090.0,882.5C1090.9,884.7 1093.5,886.9 1095.0,888.8C1093.5,891.4 1091.8,895.1 1090.0,897.5C1088.1,900.0 1084.2,902.3 1082.5,905.0C1080.8,907.7 1079.7,911.9 1078.8,915.0C1077.8,918.0 1077.1,922.0 1076.2,925.0C1075.6,927.3 1074.2,930.2 1073.8,932.5C1073.4,934.3 1073.8,936.9 1073.8,938.8C1092.9,938.0 1118.4,937.0 1137.5,936.2C1136.8,939.6 1134.6,944.1 1135.0,947.5C1135.4,950.8 1138.6,954.5 1140.0,957.5C1141.2,960.1 1142.6,963.6 1143.8,966.2 M1177.5,800.0C1176.8,830.0 1174.0,870.0 1175.0,900.0C1175.5,917.0 1180.2,939.4 1182.5,956.2 M1207.5,930.0C1208.2,933.0 1208.7,937.2 1210.0,940.0C1211.0,942.2 1214.1,944.0 1215.0,946.2C1216.0,948.7 1215.9,952.4 1216.2,955.0 M1262.5,800.0C1265.5,809.0 1269.5,821.0 1272.5,830.0C1274.8,836.8 1277.3,845.9 1280.0,852.5C1282.2,857.9 1287.9,864.2 1288.8,870.0C1289.5,874.6 1285.0,880.4 1285.0,885.0C1285.0,889.6 1287.8,895.5 1288.8,900.0C1289.7,904.5 1290.0,910.6 1291.2,915.0C1292.3,918.6 1294.7,922.9 1296.2,926.2C1297.0,927.8 1298.0,929.8 1298.8,931.2C1325.4,929.4 1360.9,926.9 1387.5,925.0C1388.2,927.2 1389.2,930.2 1390.0,932.5C1390.8,931.8 1392.4,931.1 1392.5,930.0C1392.8,926.2 1391.6,921.2 1391.2,917.5C1395.4,916.8 1400.9,915.8 1405.0,915.0 M1372.5,812.5C1377.0,817.0 1383.2,822.8 1387.5,827.5C1391.5,831.8 1396.4,837.9 1400.0,842.5C1403.9,847.6 1408.8,854.8 1412.5,860.0 M1440.0,838.8C1435.5,841.4 1428.8,843.9 1425.0,847.5C1421.8,850.5 1419.2,856.0 1417.5,860.0C1415.7,864.3 1414.8,870.5 1413.8,875.0C1412.5,880.2 1411.0,887.2 1410.0,892.5C1409.1,897.0 1408.2,903.0 1407.5,907.5C1407.1,909.8 1406.6,912.8 1406.2,915.0 M1415.0,880.0C1414.5,881.0 1413.7,882.3 1413.3,883.3C1412.9,884.8 1413.2,887.0 1412.5,888.3C1411.9,889.6 1410.2,890.7 1409.2,891.7C1409.7,892.7 1410.3,894.0 1410.8,895.0C1409.8,896.0 1408.0,897.0 1407.5,898.3C1406.7,900.2 1406.8,903.0 1406.7,905.0C1406.5,907.0 1406.2,909.7 1406.7,911.7C1407.0,913.3 1408.5,915.1 1409.2,916.7C1410.2,919.1 1411.5,922.5 1412.5,925.0C1413.7,928.0 1415.4,932.0 1416.7,935.0C1418.2,938.5 1420.0,943.3 1421.7,946.7C1423.5,950.3 1426.3,954.9 1428.3,958.3C1430.3,961.6 1433.0,965.9 1435.0,969.2C1437.0,972.4 1439.5,976.8 1441.7,980.0C1443.6,982.8 1446.1,986.6 1448.3,989.2C1450.4,991.6 1453.6,994.4 1455.8,996.7 M1420.0,850.0C1422.2,848.1 1425.2,845.6 1427.5,843.8C1426.4,846.4 1424.9,849.9 1423.8,852.5 M1000.0,990.0C1003.0,989.2 1006.9,987.8 1010.0,987.5C1013.7,987.1 1018.8,986.8 1022.5,987.5C1026.5,988.3 1031.1,991.3 1035.0,992.5C1038.7,993.6 1043.7,994.6 1047.5,995.0C1050.5,995.3 1054.8,996.3 1057.5,995.0C1059.9,993.8 1060.5,989.3 1062.5,987.5C1063.7,986.5 1066.0,986.6 1067.5,986.2C1069.0,988.1 1071.0,990.6 1072.5,992.5C1071.0,994.0 1069.0,996.0 1067.5,997.5C1070.5,996.0 1074.1,992.5 1077.5,992.5C1080.2,992.5 1082.3,997.0 1085.0,997.5C1086.6,997.8 1088.5,995.8 1090.0,995.0C1089.6,998.0 1089.1,1002.0 1088.8,1005.0C1091.4,1005.8 1094.9,1006.8 1097.5,1007.5C1100.5,1008.3 1104.5,1010.6 1107.5,1010.0C1110.4,1009.4 1112.3,1004.9 1115.0,1003.8C1117.1,1002.9 1120.5,1002.7 1122.5,1003.8C1124.4,1004.8 1125.1,1008.1 1126.2,1010.0C1127.0,1007.0 1128.8,1003.1 1128.8,1000.0C1128.8,998.0 1127.0,995.6 1126.2,993.8C1128.9,994.1 1132.5,994.0 1135.0,995.0C1137.5,996.0 1140.2,998.7 1142.5,1000.0C1145.4,1001.7 1149.2,1004.6 1152.5,1005.0C1155.6,1005.4 1159.4,1002.5 1162.5,1002.5C1163.9,1002.5 1165.1,1004.2 1166.2,1005.0C1164.4,1006.9 1162.3,1009.9 1160.0,1011.2C1158.4,1012.2 1155.6,1012.1 1153.8,1012.5C1154.1,1010.2 1156.1,1007.0 1155.0,1005.0C1153.1,1001.8 1147.8,1000.0 1145.0,997.5C1143.6,996.2 1142.4,994.0 1141.2,992.5C1142.4,990.2 1143.6,987.1 1145.0,985.0C1146.2,983.3 1149.0,981.9 1150.0,980.0C1150.9,978.3 1150.9,975.6 1151.2,973.8C1149.8,973.0 1147.9,971.4 1146.2,971.2C1144.3,971.0 1141.9,972.1 1140.0,972.5C1139.2,970.6 1138.7,967.9 1137.5,966.2C1136.4,964.8 1134.2,963.2 1132.5,962.5C1130.4,961.7 1127.2,960.9 1125.0,961.2C1122.5,961.7 1119.3,963.2 1117.5,965.0C1116.1,966.4 1115.8,969.4 1115.0,971.2C1116.5,972.4 1118.1,974.8 1120.0,975.0C1122.4,975.2 1125.4,973.6 1127.5,972.5C1129.6,971.4 1131.9,969.0 1133.8,967.5C1135.6,969.8 1137.6,973.3 1140.0,975.0C1141.9,976.4 1145.2,976.8 1147.5,977.5 M1143.8,966.2C1146.4,964.4 1149.6,961.4 1152.5,960.0C1156.0,958.3 1161.1,956.7 1165.0,956.2C1168.0,955.9 1172.0,957.3 1175.0,957.5C1177.2,957.7 1180.3,957.2 1182.5,957.5C1185.6,957.9 1189.5,959.2 1192.5,960.0C1192.9,957.0 1193.3,953.0 1193.8,950.0C1194.0,948.1 1194.6,945.6 1195.0,943.8C1196.1,945.6 1197.7,948.1 1198.8,950.0C1200.0,952.2 1201.4,955.2 1202.5,957.5C1204.8,957.5 1207.8,957.9 1210.0,957.5C1212.0,957.1 1214.4,955.8 1216.2,955.0C1219.6,953.5 1224.0,951.1 1227.5,950.0C1231.1,948.8 1236.2,948.1 1240.0,947.5C1243.7,946.9 1248.8,945.8 1252.5,946.2C1255.7,946.6 1259.4,949.0 1262.5,950.0C1265.5,950.9 1269.9,950.8 1272.5,952.5C1274.8,954.0 1275.9,957.8 1277.5,960.0C1279.3,962.3 1281.8,965.3 1283.8,967.5C1285.2,969.1 1286.8,971.8 1288.8,972.5C1291.2,973.4 1294.9,973.1 1297.5,972.5C1300.0,971.9 1302.9,970.1 1305.0,968.8C1307.4,967.1 1310.3,964.5 1312.5,962.5C1314.8,960.3 1317.4,956.8 1320.0,955.0C1322.0,953.6 1325.1,951.7 1327.5,952.0C1331.6,952.5 1336.6,955.2 1340.0,957.5C1343.5,959.9 1347.0,964.5 1350.0,967.5C1353.0,970.5 1356.7,974.9 1360.0,977.5C1363.8,980.5 1369.9,983.2 1373.8,986.2C1376.1,988.1 1379.1,991.1 1380.5,993.8C1381.8,996.1 1382.2,999.8 1382.5,1002.5C1382.9,1006.2 1382.7,1011.3 1382.5,1015.0C1382.3,1018.8 1380.8,1023.8 1381.2,1027.5C1381.6,1030.3 1383.9,1033.6 1385.0,1036.2C1386.5,1035.9 1388.8,1036.0 1390.0,1035.0C1391.3,1033.9 1391.8,1031.5 1392.5,1030.0C1391.0,1029.2 1389.0,1028.2 1387.5,1027.5C1389.8,1028.6 1392.8,1030.1 1395.0,1031.2C1393.9,1033.9 1392.7,1037.5 1391.2,1040.0C1390.0,1042.1 1387.8,1044.4 1386.2,1046.2C1388.1,1048.9 1390.6,1052.4 1392.5,1055.0C1394.7,1058.0 1397.3,1062.3 1400.0,1065.0C1401.9,1066.9 1405.2,1068.5 1407.5,1070.0C1409.0,1067.8 1411.0,1064.8 1412.5,1062.5C1413.2,1066.2 1414.2,1071.2 1415.0,1075.0C1416.5,1074.2 1418.5,1073.2 1420.0,1072.5C1418.5,1075.5 1416.5,1079.5 1415.0,1082.5C1417.2,1083.2 1420.8,1083.3 1422.5,1085.0C1424.9,1087.4 1425.5,1092.3 1427.5,1095.0C1429.3,1097.3 1432.5,1099.7 1435.0,1101.2C1436.3,1102.0 1438.5,1102.1 1440.0,1102.5 M1165.0,970.0C1166.1,971.5 1168.2,973.2 1168.8,975.0C1169.4,977.2 1169.2,980.3 1168.8,982.5C1168.5,983.8 1167.0,985.1 1166.2,986.2 M1172.5,962.0 1178.8,963.0 M1185.0,962.0 1190.0,961.2 M1455.5,1005.0C1458.5,1010.2 1462.5,1017.2 1465.5,1022.5C1468.5,1027.8 1472.8,1034.6 1475.5,1040.0C1477.7,1044.4 1480.3,1050.3 1481.8,1055.0C1483.3,1060.1 1484.8,1067.2 1485.5,1072.5C1486.3,1078.5 1487.2,1086.5 1486.8,1092.5C1486.5,1095.7 1483.6,1099.4 1483.0,1102.5C1482.4,1105.4 1483.6,1109.6 1483.0,1112.5C1482.4,1115.6 1480.5,1119.6 1479.2,1122.5C1478.3,1124.8 1476.8,1127.8 1475.5,1130.0C1474.1,1132.3 1472.2,1135.4 1470.5,1137.5C1469.5,1138.8 1467.9,1140.1 1466.8,1141.2 M1383.0,1010.0C1382.2,1015.2 1380.8,1022.2 1380.5,1027.5C1380.4,1030.1 1380.6,1033.9 1381.8,1036.2C1382.6,1037.9 1385.2,1038.9 1386.8,1040.0C1387.5,1037.0 1388.5,1033.0 1389.2,1030.0C1391.1,1030.0 1393.6,1030.0 1395.5,1030.0C1394.8,1032.2 1394.2,1035.5 1393.0,1037.5C1391.5,1040.0 1388.6,1042.8 1386.8,1045.0C1388.2,1047.6 1390.1,1051.2 1391.8,1053.8C1393.5,1056.5 1395.9,1060.0 1398.0,1062.5C1400.1,1064.9 1403.2,1067.8 1405.5,1070.0C1407.8,1068.1 1410.8,1065.6 1413.0,1063.8C1412.6,1067.1 1412.1,1071.6 1411.8,1075.0C1414.4,1074.2 1417.9,1073.2 1420.5,1072.5C1418.6,1075.5 1416.1,1079.5 1414.2,1082.5C1416.1,1082.5 1418.6,1082.5 1420.5,1082.5C1422.0,1085.5 1423.6,1089.8 1425.5,1092.5C1427.3,1095.1 1430.3,1098.3 1433.0,1100.0C1435.3,1101.4 1439.5,1100.9 1441.8,1102.5C1443.9,1104.1 1445.3,1107.7 1446.8,1110.0C1448.7,1113.0 1451.4,1116.8 1453.0,1120.0C1454.1,1122.1 1454.8,1125.2 1455.5,1127.5C1457.8,1127.1 1460.8,1127.0 1463.0,1126.2C1465.4,1125.5 1468.3,1123.8 1470.5,1122.5C1472.8,1121.1 1475.8,1119.0 1478.0,1117.5C1479.1,1116.8 1480.6,1115.8 1481.8,1115.0 M1453.0,1120.0C1455.2,1120.0 1458.2,1120.0 1460.5,1120.0C1459.0,1121.5 1457.0,1123.5 1455.5,1125.0 M1518.0,1056.2C1521.0,1058.0 1524.6,1062.3 1528.0,1062.0C1533.1,1061.5 1538.4,1056.0 1543.0,1053.8C1546.6,1052.0 1551.8,1050.2 1555.5,1048.8C1548.8,1049.5 1539.8,1050.5 1533.0,1051.2C1532.6,1053.1 1532.1,1055.6 1531.8,1057.5 M1553.0,1040.0C1556.8,1039.6 1561.8,1038.0 1565.5,1038.8C1569.6,1039.6 1574.5,1042.7 1578.0,1045.0C1580.9,1046.9 1584.8,1049.6 1586.8,1052.5C1588.0,1054.4 1588.2,1057.7 1588.0,1060.0C1587.8,1063.1 1586.2,1067.0 1585.5,1070.0C1585.1,1071.5 1584.6,1073.5 1584.2,1075.0C1582.8,1073.9 1580.8,1072.4 1579.2,1071.2C1580.0,1068.6 1581.4,1065.2 1581.8,1062.5C1582.1,1059.5 1581.8,1055.5 1581.8,1052.5 M1605.5,1085.0C1609.2,1086.5 1614.3,1088.4 1618.0,1090.0C1621.1,1091.4 1625.9,1092.4 1628.0,1095.0C1630.0,1097.4 1629.9,1102.0 1630.5,1105.0C1631.0,1107.6 1631.4,1111.1 1631.8,1113.8C1630.2,1112.2 1628.2,1110.2 1626.8,1108.8 M1605.5,1087.0 1618.0,1092.0 M1556.8,1107.5C1559.0,1107.9 1562.4,1107.4 1564.2,1108.8C1566.9,1110.6 1568.5,1114.9 1570.5,1117.5C1572.3,1119.8 1575.6,1122.3 1576.8,1125.0C1577.9,1127.8 1577.6,1132.0 1578.0,1135.0C1576.5,1135.8 1574.5,1136.8 1573.0,1137.5C1571.5,1135.2 1569.5,1132.2 1568.0,1130.0C1567.2,1131.5 1566.2,1133.5 1565.5,1135.0C1564.0,1134.6 1561.8,1134.6 1560.5,1133.8C1559.4,1133.0 1558.8,1131.1 1558.0,1130.0C1556.5,1130.4 1554.5,1130.9 1553.0,1131.2C1554.9,1128.6 1558.4,1125.6 1559.2,1122.5C1560.0,1120.0 1558.4,1116.4 1558.0,1113.8C1557.7,1111.9 1557.1,1109.4 1556.8,1107.5Z M1574.2,1138.8 1585.5,1143.0 M1648.0,1108.8C1651.0,1111.4 1655.1,1114.8 1658.0,1117.5C1660.3,1119.7 1663.2,1122.8 1665.5,1125.0C1664.4,1125.9 1662.9,1127.1 1661.8,1128.0 M1649.2,1111.2 1659.2,1120.0 M1645.5,1151.2 1659.2,1156.2 M1645.5,1153.0 1659.2,1158.0 M1670.5,1146.2C1673.5,1149.6 1677.7,1154.0 1680.5,1157.5C1682.2,1159.6 1683.6,1163.1 1685.5,1165.0C1687.8,1167.3 1691.6,1169.4 1694.2,1171.2 M1671.8,1148.8 1681.0,1160.0 M1713.0,1170.0C1716.0,1170.8 1719.9,1172.5 1723.0,1172.5C1725.7,1172.5 1729.1,1170.8 1731.8,1170.0C1730.6,1173.8 1729.8,1179.0 1728.0,1182.5C1726.3,1185.9 1722.8,1189.5 1720.5,1192.5 M1714.2,1172.0 1723.0,1174.5 M1758.0,1175.0 1775.5,1175.0 M1759.2,1176.8 1775.5,1176.8 M1775.5,1222.5C1771.8,1223.2 1766.6,1223.8 1763.0,1225.0C1759.8,1226.1 1756.0,1228.5 1753.0,1230.0C1753.4,1231.9 1753.9,1234.4 1754.2,1236.2C1757.6,1235.1 1762.1,1233.5 1765.5,1232.5C1768.5,1231.6 1772.5,1230.8 1775.5,1230.0 M1442.0,987.0C1444.4,990.9 1447.5,996.1 1450.0,1000.0C1452.9,1004.5 1457.1,1010.4 1460.0,1015.0C1462.8,1019.4 1466.2,1025.5 1468.8,1030.0C1470.7,1033.4 1473.1,1037.9 1475.0,1041.2 M1443.8,986.2C1446.4,989.6 1449.5,994.5 1452.5,997.5C1453.7,998.7 1456.0,999.2 1457.5,1000.0C1456.8,1002.2 1455.8,1005.2 1455.0,1007.5 M1028.1,340.0C1028.3,343.4 1028.5,347.8 1028.7,351.2C1028.9,354.6 1031.0,359.5 1029.3,362.4C1027.5,365.7 1021.3,366.0 1018.7,368.7C1016.0,371.5 1014.4,376.5 1012.5,379.9C1014.4,381.8 1017.6,383.7 1018.7,386.2C1019.6,388.2 1019.0,391.4 1018.7,393.6C1018.4,396.3 1017.0,399.7 1016.8,402.4C1016.6,405.7 1015.9,410.6 1017.5,413.6C1019.0,416.4 1023.5,418.1 1026.2,419.9C1029.1,421.8 1033.5,423.8 1036.2,426.1C1038.8,428.3 1041.0,432.6 1043.7,434.8C1046.0,436.8 1049.8,438.2 1052.4,439.8C1054.7,441.2 1058.5,442.5 1059.9,444.8C1061.5,447.4 1061.2,451.8 1061.8,454.8C1062.3,457.4 1062.6,461.0 1063.6,463.5C1064.4,465.3 1066.3,467.0 1067.4,468.5C1066.6,470.0 1065.0,471.8 1064.9,473.5C1064.7,476.1 1065.3,479.7 1066.1,482.2C1066.8,484.3 1068.3,486.9 1069.9,488.5C1071.4,490.0 1074.4,490.9 1076.1,492.2C1077.8,493.5 1079.9,495.5 1081.1,497.2C1082.6,499.3 1083.3,502.8 1084.9,504.7C1086.7,507.0 1090.3,508.9 1092.3,510.9C1094.0,512.6 1095.8,515.3 1097.3,517.2 M1177.2,378.7C1176.5,380.5 1175.4,383.0 1174.7,384.9C1173.6,387.9 1172.1,391.9 1171.0,394.9C1169.8,397.9 1168.2,401.8 1167.2,404.9C1166.0,408.6 1164.2,413.5 1163.5,417.4C1163.0,419.9 1164.0,423.5 1163.5,426.1C1162.9,429.2 1160.2,432.9 1159.7,436.1C1159.4,438.7 1161.2,442.2 1161.0,444.8C1160.7,447.9 1158.5,451.7 1157.9,454.8C1157.2,457.7 1156.5,461.8 1156.6,464.8C1156.7,467.5 1157.8,470.9 1158.5,473.5C1159.3,476.5 1161.1,480.4 1161.6,483.5C1162.0,486.1 1161.4,489.6 1161.6,492.2C1161.9,495.6 1162.4,500.2 1163.5,503.5C1164.5,506.3 1167.0,509.5 1168.5,512.2C1169.3,513.7 1170.2,515.7 1171.0,517.2 M1199.7,399.9C1198.9,401.4 1197.3,403.2 1197.2,404.9C1196.9,407.9 1198.8,411.9 1198.4,414.9C1198.0,417.7 1195.9,421.0 1194.7,423.6C1193.8,425.5 1191.6,427.7 1191.6,429.8C1191.6,432.3 1194.4,434.9 1194.7,437.3C1195.0,439.6 1193.0,442.6 1193.4,444.8C1194.1,448.1 1196.9,451.8 1198.4,454.8C1199.9,457.8 1202.2,461.6 1203.4,464.8C1204.5,467.7 1205.7,471.7 1205.9,474.8C1206.1,478.5 1205.4,483.5 1204.7,487.2C1203.9,491.1 1202.2,496.0 1200.9,499.7C1199.9,502.8 1198.6,506.8 1197.2,509.7C1196.0,512.1 1193.7,514.9 1192.2,517.2 M1171.0,383.7C1169.5,386.7 1167.6,390.7 1166.0,393.6C1164.2,396.7 1161.6,400.6 1159.7,403.6C1158.2,406.2 1156.7,410.1 1154.7,412.4C1153.6,413.6 1151.2,414.1 1149.8,414.9C1149.4,413.4 1148.3,411.4 1148.5,409.9C1149.0,406.4 1150.7,401.8 1152.2,398.6C1153.3,396.5 1155.7,394.3 1157.2,392.4 M490.0,1137.0C493.9,1140.9 499.6,1145.7 503.0,1150.0C507.4,1155.6 512.4,1163.8 516.0,1170.0C520.5,1177.9 525.8,1188.9 530.0,1197.0C534.8,1206.0 541.1,1218.1 546.0,1227.0C551.0,1236.1 558.1,1247.9 563.0,1257.0C566.2,1262.9 569.4,1271.3 573.0,1277.0C576.3,1282.2 583.4,1287.4 586.0,1293.0C588.1,1297.7 587.4,1304.9 588.0,1310.0 M884.0,1143.0C881.6,1154.1 878.1,1168.8 876.0,1180.0C873.6,1192.8 871.2,1210.1 869.0,1223.0C867.0,1235.0 862.7,1250.8 862.0,1263.0C861.8,1267.1 864.9,1272.1 866.0,1276.0C867.6,1282.0 868.6,1290.3 871.0,1296.0C872.9,1300.6 877.3,1305.8 880.0,1310.0 M866.0,1276.0C868.1,1282.0 869.8,1290.5 873.0,1296.0C875.9,1300.9 882.1,1305.8 886.0,1310.0 M353.0,1140.0C358.1,1143.0 364.6,1147.6 370.0,1150.0C377.9,1153.6 389.2,1156.4 397.0,1160.0C404.2,1163.3 413.5,1168.5 420.0,1173.0C426.5,1177.5 435.6,1183.5 440.0,1190.0C442.9,1194.3 444.6,1202.1 443.0,1207.0C441.3,1212.2 433.9,1216.1 430.0,1220.0C426.1,1217.9 419.7,1216.5 417.0,1213.0C412.4,1207.0 409.8,1197.0 407.0,1190.0C404.7,1184.1 402.1,1176.0 400.0,1170.0 M410.0,1137.0C412.1,1140.9 414.9,1146.1 417.0,1150.0C419.4,1154.5 422.6,1160.5 425.0,1165.0 M1177.5,1308.3C1182.8,1306.7 1190.0,1304.9 1195.2,1302.9C1198.6,1301.7 1202.4,1298.6 1205.9,1297.6C1210.0,1296.4 1215.8,1295.8 1220.1,1295.8C1227.6,1295.8 1237.5,1298.1 1244.9,1297.6C1246.4,1297.5 1247.0,1294.5 1248.5,1294.1C1251.5,1293.1 1256.1,1291.9 1259.1,1293.0C1262.5,1294.2 1265.6,1298.5 1268.0,1301.2C1269.9,1303.3 1271.7,1306.6 1273.3,1309.0 M1337.2,1274.5C1342.5,1271.3 1351.0,1268.7 1355.0,1263.9C1357.0,1261.4 1353.3,1256.0 1355.0,1253.2C1359.0,1246.9 1366.7,1240.0 1372.7,1235.5C1379.6,1230.3 1390.0,1225.4 1397.6,1221.3C1403.8,1217.9 1412.0,1212.6 1418.9,1210.6C1427.1,1208.3 1438.7,1207.9 1447.3,1207.1C1455.8,1206.3 1467.1,1205.3 1475.7,1205.3C1484.2,1205.3 1495.6,1205.8 1504.0,1207.1C1512.7,1208.5 1523.9,1212.1 1532.4,1214.2C1541.0,1216.3 1552.5,1218.7 1560.8,1221.3C1569.5,1224.0 1580.6,1229.0 1589.2,1231.9C1597.7,1234.8 1609.2,1238.0 1617.6,1240.8C1622.0,1242.3 1627.6,1244.5 1631.8,1246.1 M1340.8,1271.0C1349.3,1267.8 1360.8,1263.9 1369.2,1260.3C1375.7,1257.5 1384.4,1253.5 1390.5,1249.7C1396.2,1246.0 1402.4,1239.0 1408.2,1235.5C1413.1,1232.5 1420.4,1229.8 1426.0,1228.4C1431.1,1227.1 1438.4,1225.9 1443.7,1226.6C1446.8,1227.0 1449.9,1230.3 1452.6,1231.9C1448.9,1234.1 1443.9,1236.9 1440.2,1239.0C1443.3,1241.2 1447.0,1245.7 1450.8,1246.1C1456.2,1246.8 1463.1,1242.6 1468.6,1242.6C1470.9,1242.6 1473.3,1246.3 1475.7,1246.1C1482.2,1245.7 1490.4,1240.2 1496.9,1240.8C1501.9,1241.3 1506.5,1247.8 1511.1,1249.7C1517.3,1252.1 1525.9,1254.7 1532.4,1255.0C1538.9,1255.3 1547.3,1251.1 1553.7,1251.5C1558.3,1251.7 1564.3,1254.0 1567.9,1256.8C1571.6,1259.6 1573.2,1266.5 1576.8,1269.2C1582.0,1273.1 1590.0,1277.0 1596.3,1278.1C1602.7,1279.2 1611.3,1275.4 1617.6,1276.3C1622.8,1277.1 1628.8,1281.3 1633.6,1283.4C1630.9,1288.2 1627.7,1294.8 1624.7,1299.4C1622.9,1302.3 1619.8,1305.6 1617.6,1308.3 M1402.9,1267.4C1404.5,1264.8 1408.7,1262.1 1411.8,1262.1C1414.9,1262.1 1418.3,1265.4 1420.6,1267.4C1422.6,1269.2 1424.4,1272.4 1426.0,1274.5C1421.7,1276.7 1416.5,1281.3 1411.8,1281.6C1408.7,1281.9 1404.5,1279.0 1402.9,1276.3C1401.5,1274.1 1401.5,1269.7 1402.9,1267.4Z M1560.8,1214.2C1569.4,1217.4 1580.8,1221.4 1589.2,1224.8C1597.9,1228.3 1609.1,1233.5 1617.6,1237.3 M1628.7,1241.2C1630.8,1242.5 1633.3,1244.6 1635.5,1245.3C1638.3,1246.2 1642.2,1246.3 1645.1,1246.7C1648.0,1247.1 1651.8,1248.1 1654.7,1248.1C1658.0,1248.1 1662.3,1246.9 1665.6,1246.7C1668.9,1246.5 1673.3,1246.4 1676.5,1246.7C1678.2,1246.8 1680.8,1246.9 1682.0,1248.1C1683.2,1249.3 1683.6,1251.8 1683.4,1253.5C1683.2,1255.3 1681.5,1257.4 1680.6,1259.0C1682.7,1259.0 1685.4,1259.2 1687.5,1259.0C1690.8,1258.7 1695.1,1257.8 1698.4,1257.6C1701.7,1257.4 1706.1,1257.2 1709.4,1257.6C1712.7,1258.0 1717.1,1259.3 1720.3,1260.4C1723.3,1261.3 1726.8,1263.7 1729.9,1264.5C1732.6,1265.2 1736.7,1264.3 1739.4,1265.1C1741.0,1265.6 1742.3,1267.5 1743.5,1268.6C1742.7,1270.2 1742.3,1273.0 1740.8,1274.0C1738.3,1275.7 1734.0,1275.8 1731.2,1276.8C1728.3,1277.8 1724.4,1279.4 1721.7,1280.9C1719.1,1282.3 1716.2,1285.2 1713.5,1286.3C1711.9,1286.9 1709.6,1286.3 1708.0,1286.3C1707.6,1287.2 1707.4,1288.6 1706.6,1289.1C1704.4,1290.4 1701.0,1291.3 1698.4,1291.8C1695.2,1292.5 1690.8,1292.8 1687.5,1293.2C1683.4,1293.6 1677.9,1293.8 1673.8,1294.5C1668.8,1295.4 1662.3,1297.4 1657.4,1298.6C1652.5,1299.9 1645.9,1301.4 1641.0,1302.7C1636.9,1303.9 1631.5,1305.9 1627.3,1306.8C1624.1,1307.6 1619.7,1307.8 1616.4,1308.2C1618.9,1305.3 1622.2,1301.6 1624.6,1298.6C1627.2,1295.4 1630.6,1291.2 1632.8,1287.7C1633.5,1286.6 1633.8,1284.8 1634.2,1283.6C1632.1,1282.0 1629.8,1279.0 1627.3,1278.1C1623.4,1276.8 1617.8,1276.8 1613.7,1276.8C1609.5,1276.8 1604.1,1277.7 1600.0,1278.1" fill="none" stroke="#000" stroke-width="4.7" stroke-linejoin="round" stroke-linecap="round"/>
<path d="M225.8,142.0 229.2,143.7 235.0,152.0 232.5,160.3 229.2,166.2 225.8,163.7 226.7,155.3 225.0,147.0Z M211.7,110.3 217.5,109.5 223.3,117.8 223.3,125.3 220.0,124.5 215.0,117.8Z M234.2,165.3 240.0,162.8 247.5,164.5 247.5,168.7 244.2,172.0 244.2,175.3 240.0,176.2 235.8,172.0Z M247.5,172.0 251.7,177.0 252.5,185.3 254.3,193.7 249.2,200.3 246.7,207.8 244.2,217.8 241.2,222.0 222.5,222.0 227.1,217.0 223.3,213.7 221.7,211.2 228.3,204.5 236.7,197.0 239.2,190.3 240.0,182.0 243.3,177.0Z M248.3,200.0 246.7,210.0 243.3,218.3 236.7,221.7 231.7,226.2 226.7,224.2 221.7,220.8 225.8,216.7 222.1,212.5 230.0,205.0 235.8,200.0Z M191.7,216.7 197.5,216.7 202.1,221.7 198.3,224.2 192.5,224.2Z M190.0,232.5 196.7,233.3 194.2,240.0 190.0,243.3 186.7,245.0 188.3,238.3Z M186.7,245.0 193.3,245.4 200.0,248.3 204.2,251.7 201.7,255.0 196.7,253.3 190.0,250.8 187.1,249.2Z M1111.1,267.4 1118.6,261.2 1122.3,251.2 1128.6,245.0 1136.1,243.7 1146.0,250.0 1144.8,253.7 1136.1,251.2 1131.1,257.5 1126.1,263.7 1117.3,269.9 1112.3,271.2Z M1106.1,287.4 1114.8,279.9 1124.8,274.9 1126.1,278.0 1119.8,283.7 1111.1,290.5 1106.7,290.1Z M1202.8,284.9 1202.1,286.3 1200.0,287.3 1197.2,287.7 1194.4,287.3 1192.3,286.3 1191.6,284.9 1192.3,283.5 1194.4,282.5 1197.2,282.2 1200.0,282.5 1202.1,283.5Z M1063.7,341.1 1069.9,336.1 1073.7,328.6 1074.9,329.8 1072.4,337.3 1068.7,340.4Z M1214.7,364.8 1214.3,367.1 1213.4,368.9 1212.2,369.5 1210.9,368.9 1210.0,367.1 1209.7,364.8 1210.0,362.4 1210.9,360.7 1212.2,360.0 1213.4,360.7 1214.3,362.4Z M1203.3,387.2 1203.1,388.1 1202.4,388.8 1201.6,389.0 1200.7,388.8 1200.1,388.1 1199.8,387.2 1200.1,386.4 1200.7,385.7 1201.6,385.5 1202.4,385.7 1203.1,386.4Z M1329.8,369.9 1336.0,379.9 1333.5,386.1 1329.8,379.9 1324.8,373.6Z M1242.4,328.7 1248.7,334.9 1257.4,340.6 1269.9,343.1 1282.3,343.7 1292.3,343.1 1298.6,339.9 1307.3,339.9 1316.0,341.2 1318.5,349.9 1316.0,359.9 1311.0,358.0 1299.8,353.0 1289.8,350.5 1279.9,348.0 1269.9,346.8 1259.9,344.9 1251.1,344.9 1244.9,339.9 1242.4,334.9Z M1211.2,384.9 1215.0,381.1 1216.8,387.4 1220.0,384.9 1219.3,394.8 1216.8,401.1 1212.5,399.8 1211.2,393.6Z M1234.9,354.9 1242.4,354.9 1244.9,358.7 1237.4,358.7Z M1529.7,304.9 1535.9,304.9 1536.5,317.4 1529.7,322.4 1523.4,327.4 1520.9,324.9 1523.4,317.4 1524.7,308.7Z M1464.8,378.5 1472.3,374.8 1479.8,369.8 1483.5,367.3 1476.0,379.8 1479.8,384.8 1477.3,391.0 1472.3,388.5 1469.8,383.5 1466.0,383.5Z M1437.3,389.8 1446.1,385.4 1454.8,385.4 1458.6,392.3 1452.3,399.1 1446.1,397.9 1439.8,394.8Z M1734.7,153.2 1739.7,151.9 1740.9,159.4 1738.4,165.0 1734.7,164.4Z M1674.8,316.2 1681.0,311.2 1691.0,311.2 1692.3,314.9 1686.0,323.7 1678.5,328.7 1674.8,327.4Z M1647.3,346.1 1652.3,342.4 1658.6,342.4 1657.3,346.1 1651.1,352.4 1647.3,351.1Z M1627.4,437.2 1634.9,436.0 1636.1,442.2 1632.4,450.9 1628.6,450.9 1626.1,444.7Z M1646.1,449.7 1651.1,444.7 1656.7,446.0 1654.8,449.7 1648.6,451.6Z M1663.6,448.5 1669.2,441.6 1673.6,447.2 1669.8,449.7Z M1722.3,293.7 1721.9,296.1 1720.7,297.8 1719.1,298.5 1717.5,297.8 1716.3,296.1 1715.9,293.7 1716.3,291.3 1717.5,289.6 1719.1,289.0 1720.7,289.6 1721.9,291.3Z M1627.2,440.0 1644.7,440.0 1642.2,447.5 1634.7,452.5 1627.2,453.7 1625.9,446.2Z M1601.0,474.9 1607.2,468.7 1611.0,466.8 1614.7,470.0 1622.2,468.7 1614.7,473.1 1607.2,478.7 1601.0,480.6Z M1647.2,448.7 1652.1,445.0 1657.1,446.2 1654.6,450.6 1648.4,451.9Z M1665.5,446.9 1665.3,448.0 1664.8,448.8 1664.0,449.1 1663.3,448.8 1662.7,448.0 1662.5,446.9 1662.7,445.7 1663.3,444.9 1664.0,444.6 1664.8,444.9 1665.3,445.7Z M1513.6,552.3 1521.1,549.8 1522.4,557.3 1517.4,559.8 1514.9,566.0 1517.4,574.8 1518.6,583.5 1514.9,581.0 1511.1,572.3 1510.5,562.3Z M1502.4,564.8 1508.0,559.8 1508.6,569.8 1509.9,579.8 1512.4,589.8 1514.9,599.7 1509.9,599.7 1506.1,589.8 1504.9,577.3Z M1493.7,601.0 1504.9,604.7 1514.9,608.5 1519.9,614.7 1509.9,613.5 1498.7,608.5Z M183.2,763.0 182.8,764.4 181.6,765.4 180.0,765.8 178.4,765.4 177.2,764.4 176.8,763.0 177.2,761.6 178.4,760.6 180.0,760.2 181.6,760.6 182.8,761.6Z M218.5,765.5 218.1,768.0 217.0,769.8 215.5,770.5 214.0,769.8 212.9,768.0 212.5,765.5 212.9,763.0 214.0,761.2 215.5,760.5 217.0,761.2 218.1,763.0Z M212.8,783.0 212.4,785.5 211.4,787.3 210.0,788.0 208.6,787.3 207.6,785.5 207.2,783.0 207.6,780.5 208.6,778.7 210.0,778.0 211.4,778.7 212.4,780.5Z M1312.5,502.5 1312.3,503.8 1311.6,504.7 1310.8,505.0 1309.9,504.7 1309.2,503.8 1309.0,502.5 1309.2,501.2 1309.9,500.3 1310.8,500.0 1311.6,500.3 1312.3,501.2Z M303.8,1001.2 308.8,997.5 311.2,1012.5 306.2,1007.5Z M182.0,927.5 181.7,929.5 181.0,931.0 180.0,931.5 179.0,931.0 178.3,929.5 178.0,927.5 178.3,925.5 179.0,924.0 180.0,923.5 181.0,924.0 181.7,925.5Z M385.5,1063.8 385.3,1065.8 384.6,1067.2 383.8,1067.8 382.9,1067.2 382.2,1065.8 382.0,1063.8 382.2,1061.8 382.9,1060.3 383.8,1059.8 384.6,1060.3 385.3,1061.8Z M401.5,1093.8 401.3,1095.2 400.8,1096.3 400.0,1096.8 399.2,1096.3 398.7,1095.2 398.5,1093.8 398.7,1092.2 399.2,1091.2 400.0,1090.8 400.8,1091.2 401.3,1092.2Z M412.8,1133.8 412.4,1135.2 411.6,1136.3 410.5,1136.8 409.4,1136.3 408.6,1135.2 408.2,1133.8 408.6,1132.2 409.4,1131.2 410.5,1130.8 411.6,1131.2 412.4,1132.2Z M315.0,846.2 320.0,850.0 316.2,856.2Z M998.8,982.5 1003.8,980.0 1005.0,987.5 1000.0,991.2Z M1072.2,993.8 1071.8,995.5 1070.5,996.8 1068.8,997.2 1067.0,996.8 1065.7,995.5 1065.2,993.8 1065.7,992.0 1067.0,990.7 1068.8,990.2 1070.5,990.7 1071.8,992.0Z M1227.2,947.5 1226.8,948.8 1225.5,949.7 1223.8,950.0 1222.0,949.7 1220.7,948.8 1220.2,947.5 1220.7,946.2 1222.0,945.3 1223.8,945.0 1225.5,945.3 1226.8,946.2Z M1255.5,947.5 1254.8,948.6 1252.8,949.4 1250.0,949.8 1247.2,949.4 1245.2,948.6 1244.5,947.5 1245.2,946.4 1247.2,945.6 1250.0,945.2 1252.8,945.6 1254.8,946.4Z M1276.2,952.0 1275.9,953.0 1275.0,953.7 1273.8,954.0 1272.5,953.7 1271.6,953.0 1271.2,952.0 1271.6,951.0 1272.5,950.3 1273.8,950.0 1275.0,950.3 1275.9,951.0Z M1289.2,970.0 1288.8,971.8 1287.8,973.0 1286.2,973.5 1284.8,973.0 1283.7,971.8 1283.2,970.0 1283.7,968.2 1284.8,967.0 1286.2,966.5 1287.8,967.0 1288.8,968.2Z M1292.5,972.5 1305.0,967.5 1307.5,970.0 1296.2,976.2Z M1417.2,1077.5 1416.8,1080.2 1415.5,1082.3 1413.8,1083.0 1412.0,1082.3 1410.7,1080.2 1410.2,1077.5 1410.7,1074.8 1412.0,1072.7 1413.8,1072.0 1415.5,1072.7 1416.8,1074.8Z M1157.0,971.2 1156.7,972.5 1156.0,973.4 1155.0,973.8 1154.0,973.4 1153.3,972.5 1153.0,971.2 1153.3,970.0 1154.0,969.1 1155.0,968.8 1156.0,969.1 1156.7,970.0Z M1441.8,986.2 1446.8,987.5 1456.8,1002.5 1458.0,1010.0 1451.8,1002.5 1443.0,991.2Z M1416.5,1078.8 1416.0,1081.2 1414.8,1083.1 1413.0,1083.8 1411.2,1083.1 1410.0,1081.2 1409.5,1078.8 1410.0,1076.2 1411.2,1074.4 1413.0,1073.8 1414.8,1074.4 1416.0,1076.2Z M1579.2,1108.8 1585.5,1105.5 1592.5,1106.2 1586.8,1110.5 1580.5,1111.2Z M1698.2,1123.8 1697.9,1125.8 1697.1,1127.2 1696.0,1127.8 1694.9,1127.2 1694.1,1125.8 1693.8,1123.8 1694.1,1121.8 1694.9,1120.3 1696.0,1119.8 1697.1,1120.3 1697.9,1121.8Z M1775.0,1208.8 1774.7,1210.0 1774.0,1210.9 1773.0,1211.2 1772.0,1210.9 1771.3,1210.0 1771.0,1208.8 1771.3,1207.5 1772.0,1206.6 1773.0,1206.2 1774.0,1206.6 1774.7,1207.5Z M542.5,1286.0 542.0,1288.5 540.8,1290.3 539.0,1291.0 537.2,1290.3 536.0,1288.5 535.5,1286.0 536.0,1283.5 537.2,1281.7 539.0,1281.0 540.8,1281.7 542.0,1283.5Z M1253.8,1295.8 1253.3,1297.1 1252.0,1298.0 1250.2,1298.3 1248.5,1298.0 1247.2,1297.1 1246.7,1295.8 1247.2,1294.6 1248.5,1293.7 1250.2,1293.4 1252.0,1293.7 1253.3,1294.6Z M1772.8,1209.8 1772.5,1211.0 1771.8,1211.9 1770.9,1212.2 1769.9,1211.9 1769.2,1211.0 1768.9,1209.8 1769.2,1208.6 1769.9,1207.7 1770.9,1207.3 1771.8,1207.7 1772.5,1208.6Z" fill="#000" stroke="#000" stroke-width="2" stroke-linejoin="round" fill-rule="nonzero"/>
<path d="M230.8,209.2 235.0,207.9 235.8,215.0 231.7,214.2Z M1294.8,346.4 1299.8,343.9 1302.3,347.2 1307.3,343.1 1309.8,349.9 1306.1,353.0 1297.3,349.9Z M1442.3,391.6 1448.6,390.8 1449.8,393.5 1443.6,394.8Z" fill="#fff" stroke="none"/>
</g>
<rect x="67" y="1144" width="1560" height="130" fill="#fff" fill-opacity="0.9" stroke="#000" stroke-opacity="0.9" stroke-width="4"/>
<text class="t" x="82.6" y="1196.2" xml:space="preserve">Valid: 2025-10-31 12:00 UTC to 2025-11-01 12:00 UTC</text>
<text class="t" x="82.6" y="1249.1" xml:space="preserve">Run:   2025-11-01 00:00 UTC</text>
<rect x="30.5" y="97.5" width="1744" height="1212" fill="none" stroke="#000" stroke-width="3"/>
<rect x="149.50" y="1311.5" width="215.63" height="20.5" fill="#fff0e2"/><rect x="364.63" y="1311.5" width="215.63" height="20.5" fill="#fee3c8"/><rect x="579.76" y="1311.5" width="215.63" height="20.5" fill="#fdcfa0"/><rect x="794.89" y="1311.5" width="215.63" height="20.5" fill="#fdab67"/><rect x="1010.01" y="1311.5" width="215.63" height="20.5" fill="#fb8937"/><rect x="1225.14" y="1311.5" width="215.63" height="20.5" fill="#ef6712"/><rect x="1440.27" y="1311.5" width="215.63" height="20.5" fill="#d84901"/><polygon points="149.5,1311.5 73.2,1321.75 149.5,1332.0" fill="#ffffff"/><polygon points="1655.4,1311.5 1730,1321.75 1655.4,1332.0" fill="#a03704"/><polygon points="149.5,1311.5 1655.4,1311.5 1730,1321.75 1655.4,1332.0 149.5,1332.0 73.2,1321.75" fill="none" stroke="#000" stroke-width="3" stroke-linejoin="miter"/>
<line x1="149.50" y1="1333" x2="149.50" y2="1347.4" stroke="#000" stroke-width="3"/><text class="t" x="74.50" y="1398">0.010</text><line x1="364.63" y1="1333" x2="364.63" y2="1347.4" stroke="#000" stroke-width="3"/><text class="t" x="289.63" y="1398">0.025</text><line x1="579.76" y1="1333" x2="579.76" y2="1347.4" stroke="#000" stroke-width="3"/><text class="t" x="504.76" y="1398">0.050</text><line x1="794.89" y1="1333" x2="794.89" y2="1347.4" stroke="#000" stroke-width="3"/><text class="t" x="719.89" y="1398">0.100</text><line x1="1010.01" y1="1333" x2="1010.01" y2="1347.4" stroke="#000" stroke-width="3"/><text class="t" x="935.01" y="1398">0.500</text><line x1="1225.14" y1="1333" x2="1225.14" y2="1347.4" stroke="#000" stroke-width="3"/><text class="t" x="1150.14" y="1398">1.000</text><line x1="1440.27" y1="1333" x2="1440.27" y2="1347.4" stroke="#000" stroke-width="3"/><text class="t" x="1365.27" y="1398">2.000</text><line x1="1655.40" y1="1333" x2="1655.40" y2="1347.4" stroke="#000" stroke-width="3"/><text class="t" x="1580.40" y="1398">3.000</text>
<text class="t" x="692.4" y="1461.1">SHIP Daily Sum</text>
<text class="ti" x="29.7" y="73">GEFS Daily SHIP Sum of Ensemble Mean</text>
<g transform="translate(10,1370) scale(0.08)">
<polygon points="480,130 835,250 835,1250 480,1372 125,1250 125,250" fill="#b9b9b9"/>
<polygon points="480,155 812,268 812,1232 480,1346 148,1232 148,268" fill="#231f20"/>
<clipPath id="lg"><polygon points="480,155 812,268 812,1232 480,1346 148,1232 148,268"/></clipPath>
<g clip-path="url(#lg)">
<path d="M255,1000 L255,500 L270,440 L285,290 L300,380 L345,480 L400,480 L440,420 L480,330 L520,420 L560,480 L615,480 L660,380 L680,290 L695,440 L705,500 L705,1000 Z" fill="#fff"/>
<rect x="255" y="535" width="450" height="18" fill="#fff"/>
<rect x="240" y="520" width="480" height="30" fill="#fff"/>
<rect x="318" y="560" width="12" height="440" fill="#231f20"/>
<rect x="632" y="560" width="12" height="440" fill="#231f20"/>
<g fill="#231f20">
<rect x="380" y="622" width="90" height="28"/><rect x="380" y="668" width="90" height="28"/><rect x="380" y="714" width="90" height="28"/>
<rect x="492" y="622" width="90" height="28"/><rect x="492" y="668" width="90" height="28"/><rect x="492" y="714" width="90" height="28"/>
<rect x="380" y="782" width="90" height="28"/><rect x="380" y="828" width="90" height="28"/><rect x="380" y="874" width="90" height="28"/>
<rect x="492" y="782" width="90" height="28"/><rect x="492" y="828" width="90" height="28"/><rect x="492" y="874" width="90" height="28"/>
<rect x="380" y="622" width="14" height="120"/><rect x="568" y="622" width="14" height="120"/><rect x="380" y="782" width="14" height="120"/><rect x="568" y="782" width="14" height="120"/>
</g>
<path d="M100,1020 C350,985 650,930 860,835 L860,1400 L100,1400 Z" fill="#fff"/>
<path d="M100,1062 C350,1027 650,972 860,877 L860,1400 L100,1400 Z" fill="#cc0a0a"/>
</g>
<text x="222" y="1215" textLength="525" lengthAdjust="spacingAndGlyphs" style="font-family:'Liberation Sans',sans-serif;font-weight:bold;font-size:206px;fill:#fff;letter-spacing:0">NIU</text>
</g>
</svg>
</body></html>
